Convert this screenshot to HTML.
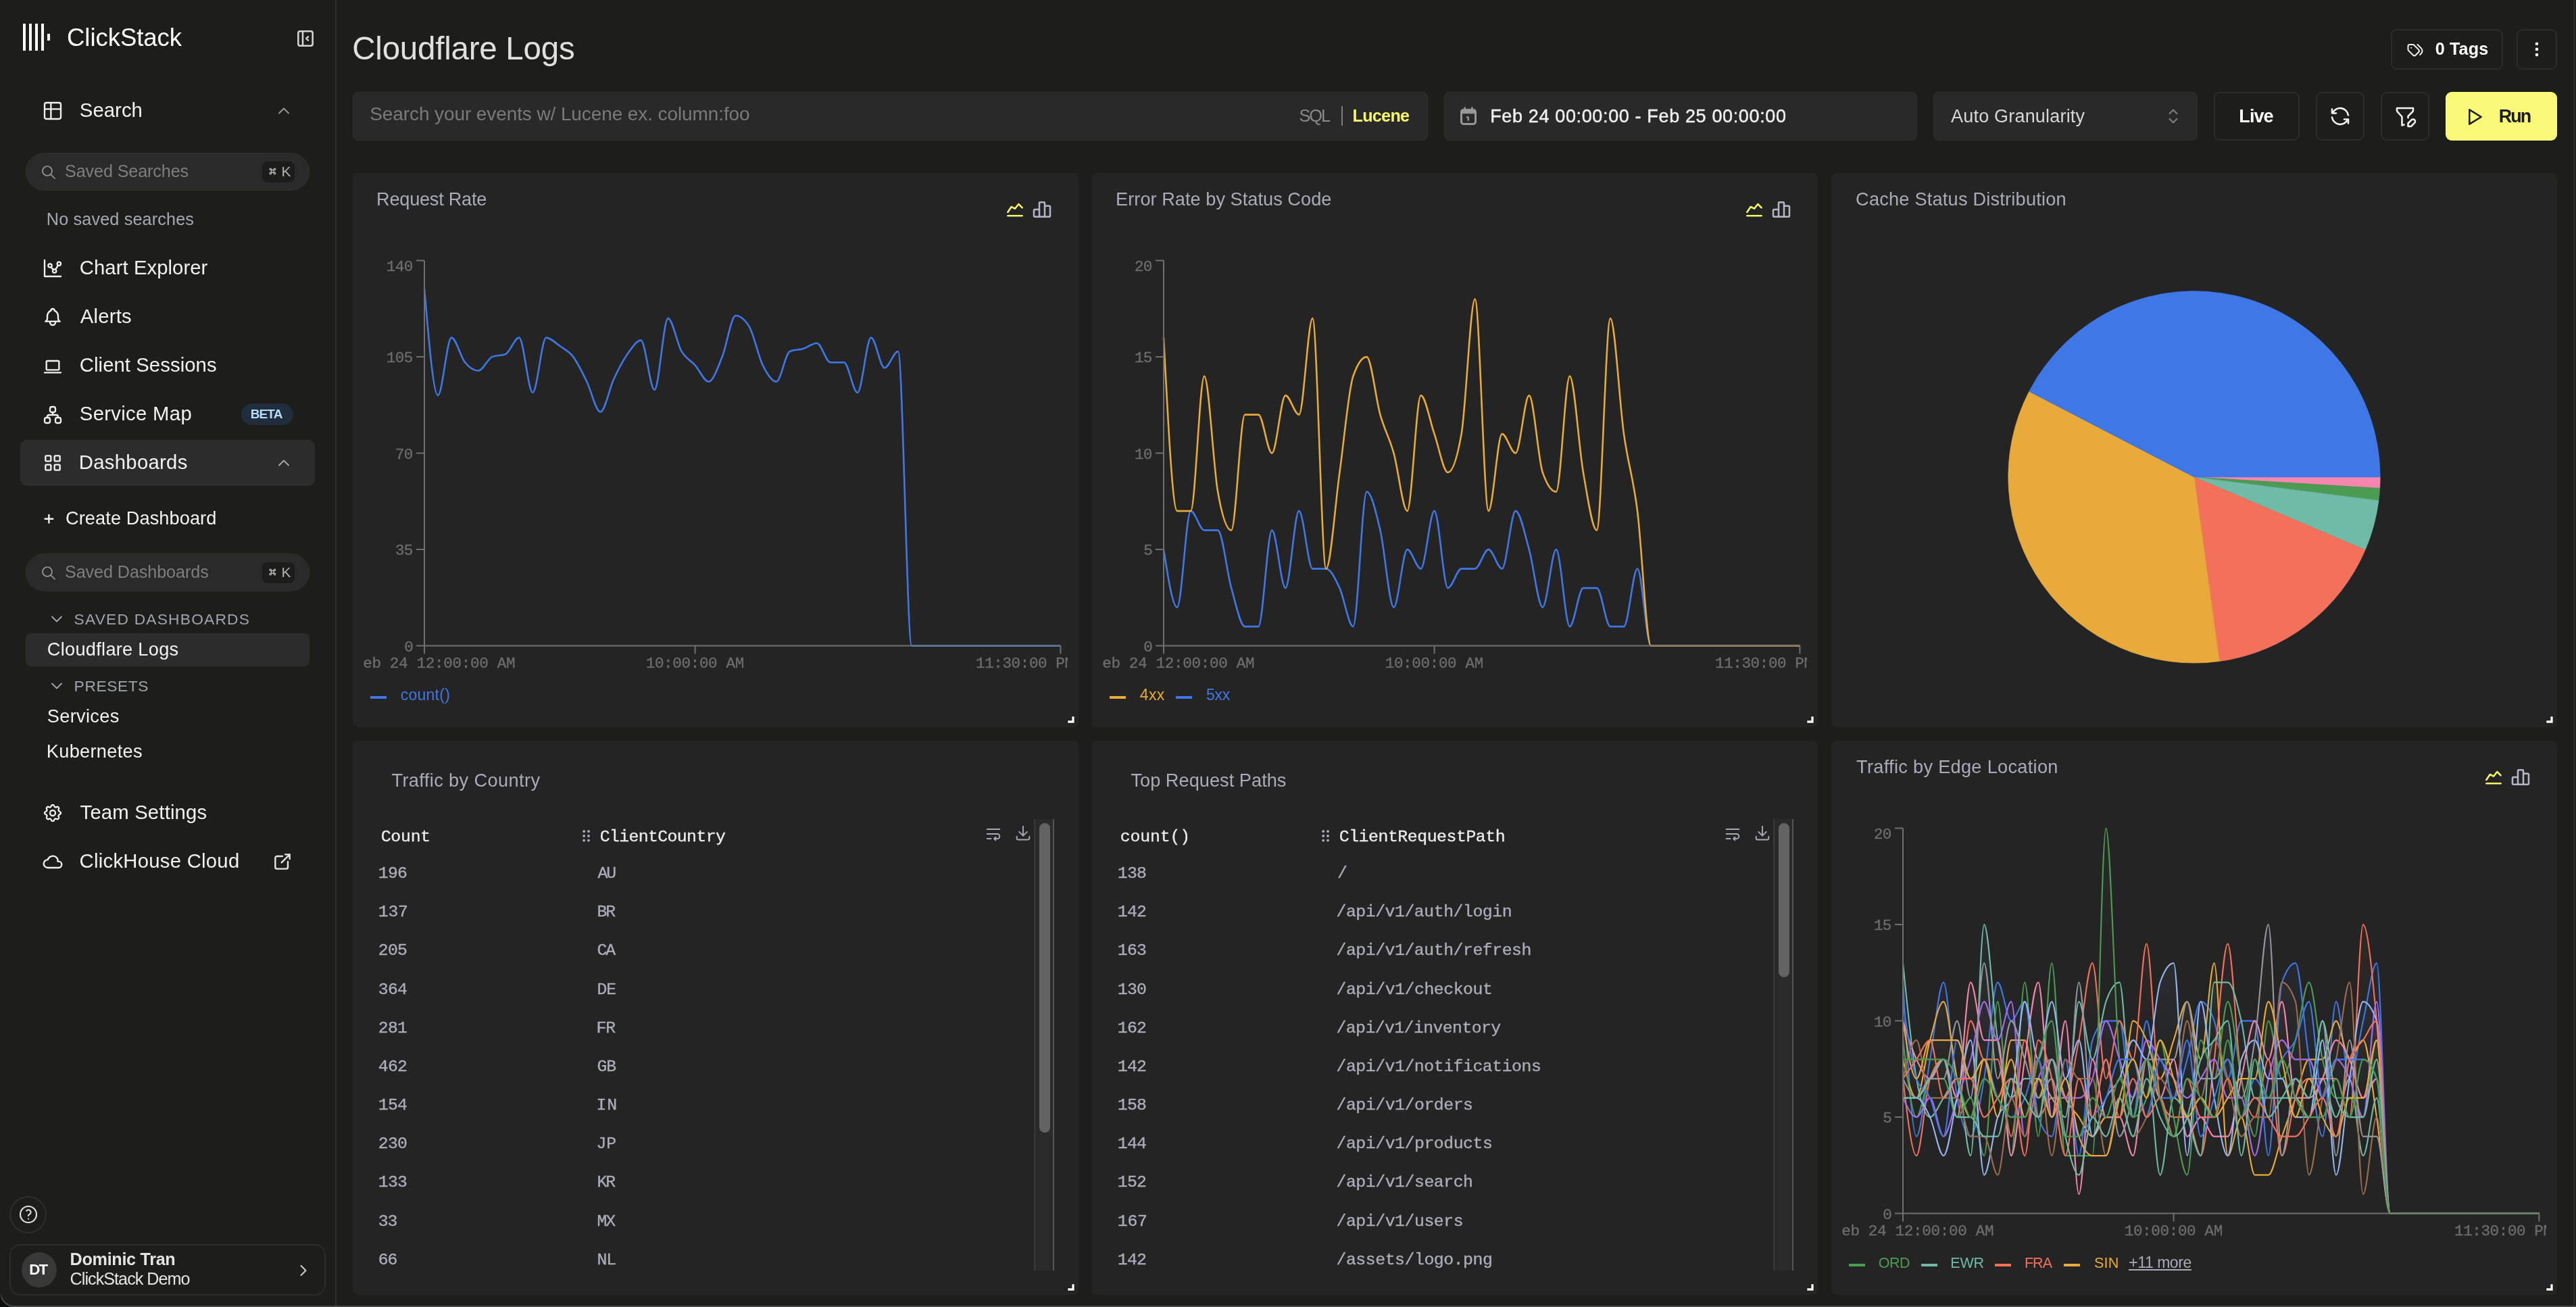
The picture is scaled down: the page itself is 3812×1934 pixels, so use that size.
<!DOCTYPE html>
<html lang="en"><head><meta charset="utf-8"><title>Cloudflare Logs - ClickStack</title>
<style>
html,body{margin:0;padding:0}
body{width:3812px;height:1934px;background:#1d1e1a;overflow:hidden;position:relative;font-family:"Liberation Sans", sans-serif;-webkit-font-smoothing:antialiased}
#app{position:absolute;left:0;top:0;width:3812px;height:1934px;overflow:hidden;will-change:transform}
#app div,#app svg.ic,#app span.t{position:absolute}
span.t{white-space:pre;line-height:1}
span.m{font-family:"Liberation Mono", monospace;-webkit-text-stroke:.35px currentColor}
span.b{font-weight:700}
div.clip{overflow:hidden}
</style></head>
<body><div id="app">
<div style="left:496px;top:0px;width:2px;height:1934px;background:#2d2d2d"></div>
<div style="left:34px;top:35px;width:4.1px;height:40px;background:#fff"></div>
<div style="left:43.05px;top:35px;width:4.1px;height:40px;background:#fff"></div>
<div style="left:52.1px;top:35px;width:4.1px;height:40px;background:#fff"></div>
<div style="left:61.15px;top:35px;width:4.1px;height:40px;background:#fff"></div>
<div style="left:70.1px;top:50px;width:4.1px;height:10px;background:#fff"></div>
<span class="t" style="left:99px;top:38.3px;font-size:36.5px;color:#fff;letter-spacing:-0.03px">ClickStack</span>
<svg class="ic" style="left:436px;top:41px" width="32" height="32" viewBox="0 0 24 24" fill="none" stroke="#d6d6d6" stroke-width="1.9" stroke-linecap="round" stroke-linejoin="round"><path d="M4 6a2 2 0 0 1 2 -2h12a2 2 0 0 1 2 2v12a2 2 0 0 1 -2 2h-12a2 2 0 0 1 -2 -2z M9 4v16 M15 10l-2 2l2 2"/></svg>
<svg class="ic" style="left:62.3px;top:148.4px" width="32" height="32" viewBox="0 0 24 24" fill="none" stroke="#f2f2f2" stroke-width="1.75" stroke-linecap="round" stroke-linejoin="round"><path d="M3 5a2 2 0 0 1 2 -2h14a2 2 0 0 1 2 2v14a2 2 0 0 1 -2 2h-14a2 2 0 0 1 -2 -2v-14z M3 10h18 M10 3v18"/></svg>
<span class="t" style="left:117.8px;top:147.7px;font-size:29.3px;color:#f2f2f2;letter-spacing:0.05px">Search</span>
<svg class="ic" style="left:406.4px;top:150px" width="28" height="28" viewBox="0 0 24 24" fill="none" stroke="#9c9c9c" stroke-width="1.6" stroke-linecap="round" stroke-linejoin="round"><path d="M6 15l6 -6l6 6"/></svg>
<div style="left:38px;top:226px;width:420px;height:56px;background:#2a2a2a;border-radius:28px;box-shadow:inset 0 0 0 1px #303030"></div>
<svg class="ic" style="left:60px;top:242.5px" width="24" height="24" viewBox="0 0 24 24" fill="none" stroke="#9a9a9a" stroke-width="1.7" stroke-linecap="round" stroke-linejoin="round"><path d="M3 10a7 7 0 1 0 14 0a7 7 0 1 0 -14 0 M21 21l-6 -6"/></svg>
<span class="t" style="left:96px;top:241px;font-size:25.2px;color:#7e7e7e;letter-spacing:-0.13px">Saved Searches</span>
<div style="left:388px;top:239px;width:48px;height:31px;background:#1c1c1a;border-radius:8px"></div>
<svg class="ic" style="left:396.4px;top:246.2px" width="14.8" height="14.8" viewBox="0 0 24 24" fill="none" stroke="#b4b4b4" stroke-width="2.2" stroke-linecap="round" stroke-linejoin="round"><path d="M7 9a2 2 0 1 1 2 -2v10a2 2 0 1 1 -2 -2h10a2 2 0 1 1 -2 2v-10a2 2 0 1 1 2 2h-10"/></svg>
<span class="t" style="left:416.6px;top:243.4px;font-size:21px;color:#b4b4b4">K</span>
<span class="t" style="left:68.8px;top:311.9px;font-size:25.2px;color:#a5a8b5;letter-spacing:0.16px">No saved searches</span>
<svg class="ic" style="left:62.3px;top:381.4px" width="32" height="32" viewBox="0 0 24 24" fill="none" stroke="#f2f2f2" stroke-width="1.75" stroke-linecap="round" stroke-linejoin="round"><path d="M3 3v18h18 M9 9m-2 0a2 2 0 1 0 4 0a2 2 0 1 0 -4 0 M19 7m-2 0a2 2 0 1 0 4 0a2 2 0 1 0 -4 0 M14 15m-2 0a2 2 0 1 0 4 0a2 2 0 1 0 -4 0 M10.16 10.62l2.34 2.88 M15.088 13.328l2.837 -4.586"/></svg>
<span class="t" style="left:117.8px;top:380.7px;font-size:29.3px;color:#f2f2f2;letter-spacing:0.05px">Chart Explorer</span>
<svg class="ic" style="left:62.3px;top:453.3px" width="32" height="32" viewBox="0 0 24 24" fill="none" stroke="#f2f2f2" stroke-width="1.75" stroke-linecap="round" stroke-linejoin="round"><path d="M10 5a2 2 0 1 1 4 0a7 7 0 0 1 4 6v3a4 4 0 0 0 2 3h-16a4 4 0 0 0 2 -3v-3a7 7 0 0 1 4 -6 M9 17v1a3 3 0 0 0 6 0v-1"/></svg>
<span class="t" style="left:118.8px;top:452.6px;font-size:29.3px;color:#f2f2f2;letter-spacing:0.21px">Alerts</span>
<svg class="ic" style="left:62.3px;top:525.5px" width="32" height="32" viewBox="0 0 24 24" fill="none" stroke="#f2f2f2" stroke-width="1.75" stroke-linecap="round" stroke-linejoin="round"><path d="M3 19l18 0 M5 7a1 1 0 0 1 1 -1h12a1 1 0 0 1 1 1v8a1 1 0 0 1 -1 1h-12a1 1 0 0 1 -1 -1z"/></svg>
<span class="t" style="left:117.8px;top:524.8px;font-size:29.3px;color:#f2f2f2;letter-spacing:0.06px">Client Sessions</span>
<svg class="ic" style="left:62.3px;top:597.9px" width="32" height="32" viewBox="0 0 24 24" fill="none" stroke="#f2f2f2" stroke-width="1.75" stroke-linecap="round" stroke-linejoin="round"><path d="M3 17a2 2 0 0 1 2 -2h2a2 2 0 0 1 2 2v2a2 2 0 0 1 -2 2h-2a2 2 0 0 1 -2 -2z M15 17a2 2 0 0 1 2 -2h2a2 2 0 0 1 2 2v2a2 2 0 0 1 -2 2h-2a2 2 0 0 1 -2 -2z M9 5a2 2 0 0 1 2 -2h2a2 2 0 0 1 2 2v2a2 2 0 0 1 -2 2h-2a2 2 0 0 1 -2 -2z M6 15v-1a2 2 0 0 1 2 -2h8a2 2 0 0 1 2 2v1 M12 9l0 3"/></svg>
<span class="t" style="left:117.8px;top:597.2px;font-size:29.3px;color:#f2f2f2;letter-spacing:0.31px">Service Map</span>
<div style="left:356.8px;top:597.3px;width:77.4px;height:31.5px;background:#1f2d3c;border-radius:16px"></div>
<span class="t b" style="left:370.7px;top:602.7px;font-size:19px;color:#badcfb;letter-spacing:-0.86px">BETA</span>
<div style="left:30px;top:651px;width:436px;height:68px;background:#2c2c2c;border-radius:9px"></div>
<svg class="ic" style="left:62.3px;top:669.4px" width="32" height="32" viewBox="0 0 24 24" fill="none" stroke="#f2f2f2" stroke-width="1.75" stroke-linecap="round" stroke-linejoin="round"><path d="M4 5a1 1 0 0 1 1 -1h4a1 1 0 0 1 1 1v4a1 1 0 0 1 -1 1h-4a1 1 0 0 1 -1 -1z M14 5a1 1 0 0 1 1 -1h4a1 1 0 0 1 1 1v4a1 1 0 0 1 -1 1h-4a1 1 0 0 1 -1 -1z M4 15a1 1 0 0 1 1 -1h4a1 1 0 0 1 1 1v4a1 1 0 0 1 -1 1h-4a1 1 0 0 1 -1 -1z M14 15a1 1 0 0 1 1 -1h4a1 1 0 0 1 1 1v4a1 1 0 0 1 -1 1h-4a1 1 0 0 1 -1 -1z"/></svg>
<span class="t" style="left:116.8px;top:668.7px;font-size:29.3px;color:#f2f2f2;letter-spacing:0.28px">Dashboards</span>
<svg class="ic" style="left:406.4px;top:671.3px" width="28" height="28" viewBox="0 0 24 24" fill="none" stroke="#a8a8a8" stroke-width="1.6" stroke-linecap="round" stroke-linejoin="round"><path d="M6 15l6 -6l6 6"/></svg>
<svg class="ic" style="left:60px;top:755px" width="26" height="26" viewBox="0 0 26 26" stroke="#f2f2f2" stroke-width="2.4" fill="none"><path d="M5.6 12.8h13.6M12.4 6v13.6"/></svg>
<span class="t" style="left:97px;top:753px;font-size:27.2px;color:#f2f2f2;letter-spacing:0.08px">Create Dashboard</span>
<div style="left:38px;top:819px;width:420px;height:56px;background:#2a2a2a;border-radius:28px;box-shadow:inset 0 0 0 1px #303030"></div>
<svg class="ic" style="left:60px;top:835.5px" width="24" height="24" viewBox="0 0 24 24" fill="none" stroke="#9a9a9a" stroke-width="1.7" stroke-linecap="round" stroke-linejoin="round"><path d="M3 10a7 7 0 1 0 14 0a7 7 0 1 0 -14 0 M21 21l-6 -6"/></svg>
<span class="t" style="left:96px;top:834px;font-size:25.2px;color:#7e7e7e;letter-spacing:-0.1px">Saved Dashboards</span>
<div style="left:388px;top:832px;width:48px;height:31px;background:#1c1c1a;border-radius:8px"></div>
<svg class="ic" style="left:396.4px;top:839.2px" width="14.8" height="14.8" viewBox="0 0 24 24" fill="none" stroke="#b4b4b4" stroke-width="2.2" stroke-linecap="round" stroke-linejoin="round"><path d="M7 9a2 2 0 1 1 2 -2v10a2 2 0 1 1 -2 -2h10a2 2 0 1 1 -2 2v-10a2 2 0 1 1 2 2h-10"/></svg>
<span class="t" style="left:416.6px;top:836.4px;font-size:21px;color:#b4b4b4">K</span>
<svg class="ic" style="left:70px;top:902.4px" width="28" height="28" viewBox="0 0 24 24" fill="none" stroke="#a2a5b2" stroke-width="1.6" stroke-linecap="round" stroke-linejoin="round"><path d="M6 9l6 6l6 -6"/></svg>
<span class="t" style="left:109.6px;top:904.7px;font-size:22.8px;color:#9fa2b0;letter-spacing:1.19px">SAVED DASHBOARDS</span>
<div style="left:38px;top:937px;width:420px;height:49px;background:#2c2c2d;border-radius:8px"></div>
<span class="t" style="left:69.8px;top:947.2px;font-size:27.2px;color:#f2f2f2;letter-spacing:0.28px">Cloudflare Logs</span>
<svg class="ic" style="left:70px;top:1001.4px" width="28" height="28" viewBox="0 0 24 24" fill="none" stroke="#a2a5b2" stroke-width="1.6" stroke-linecap="round" stroke-linejoin="round"><path d="M6 9l6 6l6 -6"/></svg>
<span class="t" style="left:109.6px;top:1003.7px;font-size:22.8px;color:#9fa2b0;letter-spacing:0.58px">PRESETS</span>
<span class="t" style="left:69.8px;top:1046.2px;font-size:27.2px;color:#f2f2f2;letter-spacing:0.32px">Services</span>
<span class="t" style="left:68.8px;top:1098.2px;font-size:27.2px;color:#f2f2f2;letter-spacing:0.3px">Kubernetes</span>
<svg class="ic" style="left:62.3px;top:1187.2px" width="32" height="32" viewBox="0 0 24 24" fill="none" stroke="#f2f2f2" stroke-width="1.75" stroke-linecap="round" stroke-linejoin="round"><path d="M10.325 4.317c.426 -1.756 2.924 -1.756 3.35 0a1.724 1.724 0 0 0 2.573 1.066c1.543 -.94 3.31 .826 2.37 2.37a1.724 1.724 0 0 0 1.065 2.572c1.756 .426 1.756 2.924 0 3.35a1.724 1.724 0 0 0 -1.066 2.573c.94 1.543 -.826 3.31 -2.37 2.37a1.724 1.724 0 0 0 -2.572 1.065c-.426 1.756 -2.924 1.756 -3.35 0a1.724 1.724 0 0 0 -2.573 -1.066c-1.543 .94 -3.31 -.826 -2.37 -2.37a1.724 1.724 0 0 0 -1.065 -2.572c-1.756 -.426 -1.756 -2.924 0 -3.35a1.724 1.724 0 0 0 1.066 -2.573c-.94 -1.543 .826 -3.31 2.37 -2.37c1 .608 2.296 .07 2.572 -1.065z M9 12a3 3 0 1 0 6 0a3 3 0 0 0 -6 0"/></svg>
<span class="t" style="left:118.6px;top:1186.5px;font-size:29.3px;color:#f2f2f2;letter-spacing:0.16px">Team Settings</span>
<svg class="ic" style="left:62.3px;top:1260.1px" width="32" height="32" viewBox="0 0 24 24" fill="none" stroke="#f2f2f2" stroke-width="1.75" stroke-linecap="round" stroke-linejoin="round"><path d="M6.657 18c-2.572 0 -4.657 -2.007 -4.657 -4.483c0 -2.475 2.085 -4.482 4.657 -4.482c.393 -1.762 1.794 -3.2 3.675 -3.773c1.88 -.572 3.956 -.193 5.444 1c1.488 1.19 2.162 3.007 1.77 4.769h.99c1.913 0 3.464 1.56 3.464 3.486c0 1.927 -1.551 3.487 -3.465 3.487h-11.878"/></svg>
<span class="t" style="left:117.6px;top:1259.4px;font-size:29.3px;color:#f2f2f2;letter-spacing:0.25px">ClickHouse Cloud</span>
<svg class="ic" style="left:401.8px;top:1258.5px" width="32" height="32" viewBox="0 0 24 24" fill="none" stroke="#e6e6e6" stroke-width="1.8" stroke-linecap="round" stroke-linejoin="round"><path d="M12 6h-6a2 2 0 0 0 -2 2v10a2 2 0 0 0 2 2h10a2 2 0 0 0 2 -2v-6 M11 13l9 -9 M15 4h5v5"/></svg>
<div style="left:14.3px;top:1769.7px;width:55px;height:55px;border-radius:50%;box-shadow:inset 0 0 0 2px #2e2e2c"></div>
<svg class="ic" style="left:25.8px;top:1781.1px" width="32" height="32" viewBox="0 0 24 24" fill="none" stroke="#e0e0e0" stroke-width="1.6" stroke-linecap="round" stroke-linejoin="round"><path d="M3 12a9 9 0 1 0 18 0a9 9 0 1 0 -18 0 M12 17l0 .01 M12 13.5a1.5 1.5 0 0 1 1 -1.5a2.6 2.6 0 1 0 -3 -4"/></svg>
<div style="left:14.3px;top:1841.4px;width:467.3px;height:75.7px;border-radius:16px;box-shadow:inset 0 0 0 2px #2c2c2b"></div>
<div style="left:31.8px;top:1852.8px;width:52px;height:52px;background:#383838;border-radius:50%"></div>
<span class="t b" style="left:43.2px;top:1868.2px;font-size:22.3px;color:#fff;letter-spacing:-1.9px">DT</span>
<span class="t b" style="left:103.6px;top:1851px;font-size:25.2px;color:#e4e4e4;letter-spacing:-0.31px">Dominic Tran</span>
<span class="t" style="left:103.6px;top:1879.9px;font-size:25.2px;color:#e4e4e4;letter-spacing:-0.98px">ClickStack Demo</span>
<svg class="ic" style="left:435.4px;top:1865.9px" width="28" height="28" viewBox="0 0 24 24" fill="none" stroke="#d0d0d0" stroke-width="1.7" stroke-linecap="round" stroke-linejoin="round"><path d="M9 6l6 6l-6 6"/></svg>
<span class="t" style="left:521.3px;top:48.3px;font-size:47.5px;color:#e0e0e0;letter-spacing:-0.24px">Cloudflare Logs</span>
<div style="left:3538px;top:43px;width:166px;height:60px;border-radius:9px;box-shadow:inset 0 0 0 2px #2c2c2b"></div>
<svg class="ic" style="left:3559.8px;top:58.8px" width="28" height="28" viewBox="0 0 24 24" fill="none" stroke="#f0f0f0" stroke-width="1.7" stroke-linecap="round" stroke-linejoin="round"><path d="M3 8v4.172a2 2 0 0 0 .586 1.414l5.71 5.71a2.41 2.41 0 0 0 3.408 0l3.592 -3.592a2.41 2.41 0 0 0 0 -3.408l-5.71 -5.71a2 2 0 0 0 -1.414 -.586h-4.172a2 2 0 0 0 -2 2z M18 19l1.592 -1.592a4.82 4.82 0 0 0 0 -6.816l-4.592 -4.592 M7 10h-.01"/></svg>
<span class="t b" style="left:3603.7px;top:60.1px;font-size:25.2px;color:#fff;letter-spacing:0.12px">0 Tags</span>
<div style="left:3724px;top:43px;width:60px;height:60px;border-radius:9px;box-shadow:inset 0 0 0 2px #2c2c2b"></div>
<svg class="ic" style="left:3744px;top:58px" width="20" height="30" viewBox="0 0 20 30" fill="#fff"><circle cx="10" cy="6.8" r="2.3"/><circle cx="10" cy="14.9" r="2.3"/><circle cx="10" cy="23.1" r="2.3"/></svg>
<div style="left:522px;top:136px;width:1590.5px;height:72px;background:#292929;border-radius:8px;box-shadow:inset 0 0 0 1px #2e2e2e"></div>
<span class="t" style="left:547.3px;top:155.4px;font-size:28px;color:#7a7a7a;letter-spacing:-0.1px">Search your events w/ Lucene ex. column:foo</span>
<span class="t" style="left:1922.4px;top:159.1px;font-size:25.4px;color:#8a8a8a;letter-spacing:-2.04px">SQL</span>
<div style="left:1985px;top:156.6px;width:2px;height:29.3px;background:#7d7d7d"></div>
<span class="t b" style="left:2001.6px;top:159.1px;font-size:25.2px;color:#f6f66b;letter-spacing:-0.75px">Lucene</span>
<div style="left:2137px;top:136px;width:700px;height:72px;background:#292929;border-radius:8px;box-shadow:inset 0 0 0 1px #2e2e2e"></div>
<svg class="ic" style="left:2159px;top:157px" width="28" height="30" viewBox="0 0 28 30" fill="none" stroke="#989898" stroke-width="3" stroke-linejoin="round" stroke-linecap="round"><rect x="3.5" y="5.5" width="21" height="21" rx="3.2"/><path d="M3.5 8.7a3.2 3.2 0 0 1 3.2-3.2h14.6a3.2 3.2 0 0 1 3.2 3.2v1.6h-21z" fill="#989898" stroke-width="2"/><path d="M8.7 2.6v3M19.3 2.6v3" stroke-width="2.6"/><path d="M11.7 16.3h2v4.6" stroke-width="2.3"/></svg>
<span class="t" style="left:2205.2px;top:159px;font-size:27px;color:#f0f0f0;letter-spacing:0.64px;-webkit-text-stroke:0.45px currentColor">Feb 24 00:00:00 - Feb 25 00:00:00</span>
<div style="left:2861px;top:136px;width:391px;height:72px;background:#292929;border-radius:8px;box-shadow:inset 0 0 0 1px #2e2e2e"></div>
<span class="t" style="left:2887.1px;top:159px;font-size:27px;color:#d6d6d6;letter-spacing:0.19px">Auto Granularity</span>
<svg class="ic" style="left:3200px;top:156.4px" width="32" height="32" viewBox="0 0 24 24" fill="none" stroke="#7a7a7a" stroke-width="1.75" stroke-linecap="round" stroke-linejoin="round"><path d="M8 9l4 -4l4 4 M16 15l-4 4l-4 -4"/></svg>
<div style="left:3276px;top:136px;width:127px;height:72px;border-radius:9px;box-shadow:inset 0 0 0 2px #2c2c2b"></div>
<span class="t b" style="left:3313.3px;top:159px;font-size:27px;color:#fff;letter-spacing:-0.9px">Live</span>
<div style="left:3427px;top:136px;width:72px;height:72px;border-radius:9px;box-shadow:inset 0 0 0 2px #2c2c2b"></div>
<svg class="ic" style="left:3445px;top:154px" width="36" height="36" viewBox="0 0 24 24" fill="none" stroke="#f4f4f4" stroke-width="1.7" stroke-linecap="round" stroke-linejoin="round"><path d="M20 11a8.1 8.1 0 0 0 -15.5 -2m-.5 -4v4h4 M4 13a8.1 8.1 0 0 0 15.5 2m.5 4v-4h-4"/></svg>
<div style="left:3523px;top:136px;width:72px;height:72px;border-radius:9px;box-shadow:inset 0 0 0 2px #2c2c2b"></div>
<svg class="ic" style="left:3541px;top:154px" width="36" height="36" viewBox="0 0 24 24" fill="none" stroke="#f4f4f4" stroke-width="1.7" stroke-linecap="round" stroke-linejoin="round"><path d="M10.97 20.344l-1.97 .656v-8.5l-4.48 -4.928a2 2 0 0 1 -.52 -1.345v-2.227h16v2.172a2 2 0 0 1 -.586 1.414l-4.414 4.414v1.5 M18.42 15.61a2.1 2.1 0 0 1 2.97 2.97l-3.39 3.42h-3v-3l3.42 -3.39z"/></svg>
<div style="left:3619px;top:136px;width:165px;height:72px;background:#fafa78;border-radius:9px"></div>
<svg class="ic" style="left:3645px;top:156.7px" width="32" height="32" viewBox="0 0 24 24" fill="none" stroke="#1c1c1c" stroke-width="1.9" stroke-linecap="round" stroke-linejoin="round"><path d="M7 4v16l13 -8z"/></svg>
<span class="t b" style="left:3697.8px;top:159.2px;font-size:27px;color:#1c1c1c;letter-spacing:-2.05px">Run</span>
<div style="left:522px;top:256px;width:1074px;height:820px;background:#242424;border-radius:8px"></div>
<span class="t" style="left:557.1px;top:281.1px;font-size:27.2px;color:#a9acb8;letter-spacing:-0.27px">Request Rate</span>
<svg class="ic" style="left:1486px;top:294px" width="32" height="32" viewBox="0 0 24 24" fill="none" stroke="#f6f66b" stroke-width="1.9" stroke-linecap="round" stroke-linejoin="round"><path d="M4 19l16 0 M4 15l4 -6l4 2l4 -5l4 4"/></svg>
<svg class="ic" style="left:1526px;top:294px" width="32" height="32" viewBox="0 0 24 24" fill="none" stroke="#b4b8c6" stroke-width="1.9" stroke-linecap="round" stroke-linejoin="round"><path d="M3 13a1 1 0 0 1 1 -1h4a1 1 0 0 1 1 1v6a1 1 0 0 1 -1 1h-4a1 1 0 0 1 -1 -1z M15 9a1 1 0 0 1 1 -1h4a1 1 0 0 1 1 1v10a1 1 0 0 1 -1 1h-4a1 1 0 0 1 -1 -1z M9 5a1 1 0 0 1 1 -1h4a1 1 0 0 1 1 1v14a1 1 0 0 1 -1 1h-4a1 1 0 0 1 -1 -1z M4 20h14"/></svg>
<svg class="ic" style="left:522px;top:256px" width="1074" height="820" viewBox="0 0 1074 820" fill="none"><path d="M106,170.31C112.68,249.71,119.35,329.1,126.03,329.1C132.71,329.1,139.38,243.6,146.06,243.6C152.74,243.6,159.41,272.1,166.09,280.24C172.77,288.39,179.44,292.46,186.12,292.46C192.8,292.46,199.47,274.81,206.15,272.1C212.83,269.39,219.5,270.74,226.18,268.03C232.86,265.31,239.53,243.6,246.21,243.6C252.89,243.6,259.56,325.03,266.24,325.03C272.91,325.03,279.59,243.6,286.27,243.6C292.94,243.6,299.62,251.06,306.3,255.81C312.97,260.56,319.65,263.28,326.33,272.1C333,280.92,339.68,295.17,346.36,308.74C353.03,322.31,359.71,353.53,366.39,353.53C373.06,353.53,379.74,318.92,386.42,304.67C393.09,290.42,399.77,277.53,406.45,268.03C413.12,258.53,419.8,247.67,426.48,247.67C433.15,247.67,439.83,320.96,446.51,320.96C453.18,320.96,459.86,215.1,466.54,215.1C473.21,215.1,479.89,252.42,486.57,263.96C493.24,275.49,499.92,276.85,506.6,284.31C513.27,291.78,519.95,308.74,526.63,308.74C533.3,308.74,539.98,288.39,546.66,272.1C553.33,255.81,560.01,211.03,566.69,211.03C573.36,211.03,580.04,216.46,586.71,227.31C593.39,238.17,600.07,270.74,606.74,284.31C613.42,297.89,620.1,308.74,626.77,308.74C633.45,308.74,640.13,266.67,646.8,263.96C653.48,261.24,660.16,261.92,666.83,259.89C673.51,257.85,680.19,251.74,686.86,251.74C693.54,251.74,700.22,280.24,706.89,280.24C713.57,280.24,720.25,280.24,726.92,280.24C733.6,280.24,740.28,325.03,746.95,325.03C753.63,325.03,760.31,243.6,766.98,243.6C773.66,243.6,780.34,288.39,787.01,288.39C793.69,288.39,800.37,263.96,807.04,263.96C813.72,263.96,820.4,699.6,827.07,699.6C833.75,699.6,840.43,699.6,847.1,699.6C853.78,699.6,860.46,699.6,867.13,699.6C873.81,699.6,880.49,699.6,887.16,699.6C893.84,699.6,900.51,699.6,907.19,699.6C913.87,699.6,920.54,699.6,927.22,699.6C933.9,699.6,940.57,699.6,947.25,699.6C953.93,699.6,960.6,699.6,967.28,699.6C973.96,699.6,980.63,699.6,987.31,699.6C993.99,699.6,1000.66,699.6,1007.34,699.6C1014.02,699.6,1020.69,699.6,1027.37,699.6C1034.05,699.6,1040.72,699.6,1047.4,699.6" stroke="#3f78e6" stroke-width="2.6" stroke-linejoin="round"/><path d="M106,129.6V699.6M106,699.6H1047.4M94,699.6H106M94,557.1H106M94,414.6H106M94,272.1H106M94,129.6H106M106,699.6V711.6M506.6,699.6V711.6M1047.4,699.6V711.6" stroke="#6f6f6f" stroke-width="2"/></svg>
<span class="t m" style="left:598.2px;top:946.5px;font-size:22.6px;color:#6d6d6d">0</span>
<span class="t m" style="left:585px;top:804px;font-size:22.6px;color:#6d6d6d;letter-spacing:-0.76px">35</span>
<span class="t m" style="left:585px;top:661.5px;font-size:22.6px;color:#6d6d6d;letter-spacing:-0.76px">70</span>
<span class="t m" style="left:571.8px;top:519px;font-size:22.6px;color:#6d6d6d;letter-spacing:-0.56px">105</span>
<span class="t m" style="left:571.8px;top:383.7px;font-size:22.6px;color:#6d6d6d;letter-spacing:-0.56px">140</span>
<div class="clip" style="left:538px;top:971px;width:1041.6px;height:29.38px"><span class="t m" style="left:-14.1px;top:0;font-size:22.6px;color:#6d6d6d;letter-spacing:-0.32px">Feb 24 12:00:00 AM</span></div>
<div class="clip" style="left:538px;top:971px;width:1041.6px;height:29.38px"><span class="t m" style="left:417.7px;top:0;font-size:22.6px;color:#6d6d6d;letter-spacing:-0.36px">10:00:00 AM</span></div>
<div class="clip" style="left:538px;top:971px;width:1041.6px;height:29.38px"><span class="t m" style="left:906px;top:0;font-size:22.6px;color:#6d6d6d;letter-spacing:-0.41px">11:30:00 PM</span></div>
<div style="left:548px;top:1030.4px;width:24px;height:3.2px;background:#3f78e6"></div>
<span class="t" style="left:592.7px;top:1016.9px;font-size:23px;color:#3f78e6;letter-spacing:0.26px">count()</span>
<div style="left:1616px;top:256px;width:1074px;height:820px;background:#242424;border-radius:8px"></div>
<span class="t" style="left:1651.1px;top:281.1px;font-size:27.2px;color:#a9acb8;letter-spacing:0.02px">Error Rate by Status Code</span>
<svg class="ic" style="left:2580px;top:294px" width="32" height="32" viewBox="0 0 24 24" fill="none" stroke="#f6f66b" stroke-width="1.9" stroke-linecap="round" stroke-linejoin="round"><path d="M4 19l16 0 M4 15l4 -6l4 2l4 -5l4 4"/></svg>
<svg class="ic" style="left:2620px;top:294px" width="32" height="32" viewBox="0 0 24 24" fill="none" stroke="#b4b8c6" stroke-width="1.9" stroke-linecap="round" stroke-linejoin="round"><path d="M3 13a1 1 0 0 1 1 -1h4a1 1 0 0 1 1 1v6a1 1 0 0 1 -1 1h-4a1 1 0 0 1 -1 -1z M15 9a1 1 0 0 1 1 -1h4a1 1 0 0 1 1 1v10a1 1 0 0 1 -1 1h-4a1 1 0 0 1 -1 -1z M9 5a1 1 0 0 1 1 -1h4a1 1 0 0 1 1 1v14a1 1 0 0 1 -1 1h-4a1 1 0 0 1 -1 -1z M4 20h14"/></svg>
<svg class="ic" style="left:1616px;top:256px" width="1074" height="820" viewBox="0 0 1074 820" fill="none"><path d="M106,557.1C112.68,599.85,119.35,642.6,126.03,642.6C132.71,642.6,139.38,500.1,146.06,500.1C152.74,500.1,159.41,528.6,166.09,528.6C172.77,528.6,179.44,528.6,186.12,528.6C192.8,528.6,199.47,590.35,206.15,614.1C212.83,637.85,219.5,671.1,226.18,671.1C232.86,671.1,239.53,671.1,246.21,671.1C252.89,671.1,259.56,528.6,266.24,528.6C272.91,528.6,279.59,614.1,286.27,614.1C292.94,614.1,299.62,500.1,306.3,500.1C312.97,500.1,319.65,585.6,326.33,585.6C333,585.6,339.68,585.6,346.36,585.6C353.03,585.6,359.71,599.85,366.39,614.1C373.06,628.35,379.74,671.1,386.42,671.1C393.09,671.1,399.77,471.6,406.45,471.6C413.12,471.6,419.8,500.1,426.48,528.6C433.15,557.1,439.83,642.6,446.51,642.6C453.18,642.6,459.86,557.1,466.54,557.1C473.21,557.1,479.89,585.6,486.57,585.6C493.24,585.6,499.92,500.1,506.6,500.1C513.27,500.1,519.95,614.1,526.63,614.1C533.3,614.1,539.98,585.6,546.66,585.6C553.33,585.6,560.01,585.6,566.69,585.6C573.36,585.6,580.04,557.1,586.71,557.1C593.39,557.1,600.07,585.6,606.74,585.6C613.42,585.6,620.1,500.1,626.77,500.1C633.45,500.1,640.13,533.35,646.8,557.1C653.48,580.85,660.16,642.6,666.83,642.6C673.51,642.6,680.19,557.1,686.86,557.1C693.54,557.1,700.22,671.1,706.89,671.1C713.57,671.1,720.25,614.1,726.92,614.1C733.6,614.1,740.28,614.1,746.95,614.1C753.63,614.1,760.31,671.1,766.98,671.1C773.66,671.1,780.34,671.1,787.01,671.1C793.69,671.1,800.37,585.6,807.04,585.6C813.72,585.6,820.4,699.6,827.07,699.6C833.75,699.6,840.43,699.6,847.1,699.6C853.78,699.6,860.46,699.6,867.13,699.6C873.81,699.6,880.49,699.6,887.16,699.6C893.84,699.6,900.51,699.6,907.19,699.6C913.87,699.6,920.54,699.6,927.22,699.6C933.9,699.6,940.57,699.6,947.25,699.6C953.93,699.6,960.6,699.6,967.28,699.6C973.96,699.6,980.63,699.6,987.31,699.6C993.99,699.6,1000.66,699.6,1007.34,699.6C1014.02,699.6,1020.69,699.6,1027.37,699.6C1034.05,699.6,1040.72,699.6,1047.4,699.6" stroke="#3f78e6" stroke-width="2.6" stroke-linejoin="round"/><path d="M106,243.6C112.68,371.85,119.35,500.1,126.03,500.1C132.71,500.1,139.38,500.1,146.06,500.1C152.74,500.1,159.41,300.6,166.09,300.6C172.77,300.6,179.44,433.6,186.12,471.6C192.8,509.6,199.47,528.6,206.15,528.6C212.83,528.6,219.5,357.6,226.18,357.6C232.86,357.6,239.53,357.6,246.21,357.6C252.89,357.6,259.56,414.6,266.24,414.6C272.91,414.6,279.59,329.1,286.27,329.1C292.94,329.1,299.62,357.6,306.3,357.6C312.97,357.6,319.65,215.1,326.33,215.1C333,215.1,339.68,585.6,346.36,585.6C353.03,585.6,359.71,490.6,366.39,443.1C373.06,395.6,379.74,319.6,386.42,300.6C393.09,281.6,399.77,272.1,406.45,272.1C413.12,272.1,419.8,333.85,426.48,357.6C433.15,381.35,439.83,390.85,446.51,414.6C453.18,438.35,459.86,500.1,466.54,500.1C473.21,500.1,479.89,329.1,486.57,329.1C493.24,329.1,499.92,367.1,506.6,386.1C513.27,405.1,519.95,443.1,526.63,443.1C533.3,443.1,539.98,424.1,546.66,386.1C553.33,348.1,560.01,186.6,566.69,186.6C573.36,186.6,580.04,500.1,586.71,500.1C593.39,500.1,600.07,386.1,606.74,386.1C613.42,386.1,620.1,414.6,626.77,414.6C633.45,414.6,640.13,329.1,646.8,329.1C653.48,329.1,660.16,424.1,666.83,443.1C673.51,462.1,680.19,471.6,686.86,471.6C693.54,471.6,700.22,300.6,706.89,300.6C713.57,300.6,720.25,405.1,726.92,443.1C733.6,481.1,740.28,528.6,746.95,528.6C753.63,528.6,760.31,215.1,766.98,215.1C773.66,215.1,780.34,338.6,787.01,386.1C793.69,433.6,800.37,447.85,807.04,500.1C813.72,552.35,820.4,699.6,827.07,699.6C833.75,699.6,840.43,699.6,847.1,699.6C853.78,699.6,860.46,699.6,867.13,699.6C873.81,699.6,880.49,699.6,887.16,699.6C893.84,699.6,900.51,699.6,907.19,699.6C913.87,699.6,920.54,699.6,927.22,699.6C933.9,699.6,940.57,699.6,947.25,699.6C953.93,699.6,960.6,699.6,967.28,699.6C973.96,699.6,980.63,699.6,987.31,699.6C993.99,699.6,1000.66,699.6,1007.34,699.6C1014.02,699.6,1020.69,699.6,1027.37,699.6C1034.05,699.6,1040.72,699.6,1047.4,699.6" stroke="#e8aa3a" stroke-width="2.6" stroke-linejoin="round"/><path d="M106,129.6V699.6M106,699.6H1047.4M94,699.6H106M94,557.1H106M94,414.6H106M94,272.1H106M94,129.6H106M106,699.6V711.6M506.6,699.6V711.6M1047.4,699.6V711.6" stroke="#6f6f6f" stroke-width="2"/></svg>
<span class="t m" style="left:1692.2px;top:946.5px;font-size:22.6px;color:#6d6d6d">0</span>
<span class="t m" style="left:1692.2px;top:804px;font-size:22.6px;color:#6d6d6d">5</span>
<span class="t m" style="left:1679px;top:661.5px;font-size:22.6px;color:#6d6d6d;letter-spacing:-0.76px">10</span>
<span class="t m" style="left:1679px;top:519px;font-size:22.6px;color:#6d6d6d;letter-spacing:-0.76px">15</span>
<span class="t m" style="left:1679px;top:383.7px;font-size:22.6px;color:#6d6d6d;letter-spacing:-0.76px">20</span>
<div class="clip" style="left:1632px;top:971px;width:1041.6px;height:29.38px"><span class="t m" style="left:-14.1px;top:0;font-size:22.6px;color:#6d6d6d;letter-spacing:-0.32px">Feb 24 12:00:00 AM</span></div>
<div class="clip" style="left:1632px;top:971px;width:1041.6px;height:29.38px"><span class="t m" style="left:417.7px;top:0;font-size:22.6px;color:#6d6d6d;letter-spacing:-0.36px">10:00:00 AM</span></div>
<div class="clip" style="left:1632px;top:971px;width:1041.6px;height:29.38px"><span class="t m" style="left:906px;top:0;font-size:22.6px;color:#6d6d6d;letter-spacing:-0.41px">11:30:00 PM</span></div>
<div style="left:1642px;top:1030.4px;width:24px;height:3.2px;background:#e8aa3a"></div>
<span class="t" style="left:1686.8px;top:1016.9px;font-size:23px;color:#e8aa3a;letter-spacing:0.35px">4xx</span>
<div style="left:1740px;top:1030.4px;width:24px;height:3.2px;background:#3f78e6"></div>
<span class="t" style="left:1785px;top:1016.9px;font-size:23px;color:#3f78e6;letter-spacing:-0.3px">5xx</span>
<div style="left:2710px;top:256px;width:1074px;height:820px;background:#242424;border-radius:8px"></div>
<span class="t" style="left:2746.1px;top:281.1px;font-size:27.2px;color:#a9acb8;letter-spacing:0.2px">Cache Status Distribution</span>
<svg class="ic" style="left:2710px;top:256px" width="1074" height="820" viewBox="0 0 1074 820"><path d="M537,449.9L812.2,449.9A275.2,275.2,0,0,1,811.7,466.41Z" fill="#f587af" stroke="#f587af" stroke-width=".6"/><path d="M537,449.9L811.7,466.41A275.2,275.2,0,0,1,810,484.63Z" fill="#4b9b52" stroke="#4b9b52" stroke-width=".6"/><path d="M537,449.9L810,484.63A275.2,275.2,0,0,1,790.13,557.87Z" fill="#70baa8" stroke="#70baa8" stroke-width=".6"/><path d="M537,449.9L790.13,557.87A275.2,275.2,0,0,1,574.35,722.55Z" fill="#f3705a" stroke="#f3705a" stroke-width=".6"/><path d="M537,449.9L574.35,722.55A275.2,275.2,0,0,1,292.67,323.25Z" fill="#e8aa3a" stroke="#e8aa3a" stroke-width=".6"/><path d="M537,449.9L292.67,323.25A275.2,275.2,0,0,1,812.2,449.9Z" fill="#3f78e6" stroke="#3f78e6" stroke-width=".6"/></svg>
<div style="left:522px;top:1096px;width:1074px;height:820px;background:#242424;border-radius:8px"></div>
<span class="t" style="left:579.4px;top:1141.3px;font-size:27.2px;color:#a9acb8;letter-spacing:0.39px">Traffic by Country</span>
<span class="t m" style="left:563.7px;top:1226.1px;font-size:24.8px;color:#ececec;letter-spacing:-0.23px">Count</span>
<svg class="ic" style="left:862.4px;top:1228.2px" width="12" height="18" viewBox="0 0 12 18" fill="#aeb1be"><circle cx="2.2" cy="2.2" r="1.9"/><circle cx="2.2" cy="8.9" r="1.9"/><circle cx="2.2" cy="15.6" r="1.9"/><circle cx="9" cy="2.2" r="1.9"/><circle cx="9" cy="8.9" r="1.9"/><circle cx="9" cy="15.6" r="1.9"/></svg>
<span class="t m" style="left:887.7px;top:1226.1px;font-size:24.8px;color:#ececec;letter-spacing:-0.61px">ClientCountry</span>
<span class="t m" style="left:559.8px;top:1280.1px;font-size:24.8px;color:#abaeba;letter-spacing:-0.78px">196</span>
<span class="t m" style="left:884.5px;top:1280.1px;font-size:24.8px;color:#abaeba;letter-spacing:-2.08px">AU</span>
<span class="t m" style="left:559.8px;top:1337.27px;font-size:24.8px;color:#abaeba;letter-spacing:-0.28px">137</span>
<span class="t m" style="left:883.5px;top:1337.27px;font-size:24.8px;color:#abaeba;letter-spacing:-2.08px">BR</span>
<span class="t m" style="left:559.8px;top:1394.44px;font-size:24.8px;color:#abaeba;letter-spacing:-0.78px">205</span>
<span class="t m" style="left:883.5px;top:1394.44px;font-size:24.8px;color:#abaeba;letter-spacing:-2.08px">CA</span>
<span class="t m" style="left:559.8px;top:1451.61px;font-size:24.8px;color:#abaeba;letter-spacing:-0.78px">364</span>
<span class="t m" style="left:883.5px;top:1451.61px;font-size:24.8px;color:#abaeba;letter-spacing:-1.08px">DE</span>
<span class="t m" style="left:559.8px;top:1508.78px;font-size:24.8px;color:#abaeba;letter-spacing:-0.78px">281</span>
<span class="t m" style="left:882.5px;top:1508.78px;font-size:24.8px;color:#abaeba;letter-spacing:-1.08px">FR</span>
<span class="t m" style="left:559.8px;top:1565.95px;font-size:24.8px;color:#abaeba;letter-spacing:-0.78px">462</span>
<span class="t m" style="left:883.5px;top:1565.95px;font-size:24.8px;color:#abaeba;letter-spacing:-1.08px">GB</span>
<span class="t m" style="left:559.8px;top:1623.12px;font-size:24.8px;color:#abaeba;letter-spacing:-0.78px">154</span>
<span class="t m" style="left:882.5px;top:1623.12px;font-size:24.8px;color:#abaeba;letter-spacing:0.92px">IN</span>
<span class="t m" style="left:559.8px;top:1680.29px;font-size:24.8px;color:#abaeba;letter-spacing:-0.78px">230</span>
<span class="t m" style="left:882.5px;top:1680.29px;font-size:24.8px;color:#abaeba;letter-spacing:-0.08px">JP</span>
<span class="t m" style="left:559.8px;top:1737.46px;font-size:24.8px;color:#abaeba;letter-spacing:-0.78px">133</span>
<span class="t m" style="left:883.5px;top:1737.46px;font-size:24.8px;color:#abaeba;letter-spacing:-2.08px">KR</span>
<span class="t m" style="left:559.8px;top:1794.63px;font-size:24.8px;color:#abaeba;letter-spacing:-1.08px">33</span>
<span class="t m" style="left:883.5px;top:1794.63px;font-size:24.8px;color:#abaeba;letter-spacing:-2.08px">MX</span>
<span class="t m" style="left:559.8px;top:1851.8px;font-size:24.8px;color:#abaeba;letter-spacing:-1.08px">66</span>
<span class="t m" style="left:883.5px;top:1851.8px;font-size:24.8px;color:#abaeba;letter-spacing:-1.08px">NL</span>
<svg class="ic" style="left:1456px;top:1220px" width="28" height="28" viewBox="0 0 24 24" fill="none" stroke="#a6a9b6" stroke-width="1.65" stroke-linecap="round" stroke-linejoin="round"><path d="M4 6l16 0 M4 18l5 0 M4 12h13a3 3 0 0 1 0 6h-4l2 -2m0 4l-2 -2"/></svg>
<svg class="ic" style="left:1500px;top:1218px" width="28" height="28" viewBox="0 0 24 24" fill="none" stroke="#a6a9b6" stroke-width="1.65" stroke-linecap="round" stroke-linejoin="round"><path d="M4 17v2a2 2 0 0 0 2 2h12a2 2 0 0 0 2 -2v-2 M7 11l5 5l5 -5 M12 4l0 12"/></svg>
<div style="left:1530.3px;top:1212px;width:29.7px;height:668px;background:#2a2a2a;box-shadow:inset 2px 0 0 #393939,inset -2px 0 0 #555"></div>
<div style="left:1538px;top:1218px;width:16px;height:458px;background:#636363;border-radius:8px"></div>
<div style="left:1616px;top:1096px;width:1074px;height:820px;background:#242424;border-radius:8px"></div>
<span class="t" style="left:1673.4px;top:1141.3px;font-size:27.2px;color:#a9acb8;letter-spacing:0.02px">Top Request Paths</span>
<span class="t m" style="left:1657.7px;top:1226.1px;font-size:24.8px;color:#ececec;letter-spacing:-0.11px">count()</span>
<svg class="ic" style="left:1956.4px;top:1228.2px" width="12" height="18" viewBox="0 0 12 18" fill="#aeb1be"><circle cx="2.2" cy="2.2" r="1.9"/><circle cx="2.2" cy="8.9" r="1.9"/><circle cx="2.2" cy="15.6" r="1.9"/><circle cx="9" cy="2.2" r="1.9"/><circle cx="9" cy="8.9" r="1.9"/><circle cx="9" cy="15.6" r="1.9"/></svg>
<span class="t m" style="left:1981.7px;top:1226.1px;font-size:24.8px;color:#ececec;letter-spacing:-0.44px">ClientRequestPath</span>
<span class="t m" style="left:1653.8px;top:1280.1px;font-size:24.8px;color:#abaeba;letter-spacing:-0.78px">138</span>
<span class="t m" style="left:1979.1px;top:1280.1px;font-size:24.8px;color:#abaeba">/</span>
<span class="t m" style="left:1653.8px;top:1337.27px;font-size:24.8px;color:#abaeba;letter-spacing:-0.78px">142</span>
<span class="t m" style="left:1977.5px;top:1337.27px;font-size:24.8px;color:#abaeba;letter-spacing:-0.46px">/api/v1/auth/login</span>
<span class="t m" style="left:1653.8px;top:1394.44px;font-size:24.8px;color:#abaeba;letter-spacing:-0.78px">163</span>
<span class="t m" style="left:1977.5px;top:1394.44px;font-size:24.8px;color:#abaeba;letter-spacing:-0.46px">/api/v1/auth/refresh</span>
<span class="t m" style="left:1653.8px;top:1451.61px;font-size:24.8px;color:#abaeba;letter-spacing:-0.78px">130</span>
<span class="t m" style="left:1977.5px;top:1451.61px;font-size:24.8px;color:#abaeba;letter-spacing:-0.45px">/api/v1/checkout</span>
<span class="t m" style="left:1653.8px;top:1508.78px;font-size:24.8px;color:#abaeba;letter-spacing:-0.78px">162</span>
<span class="t m" style="left:1977.5px;top:1508.78px;font-size:24.8px;color:#abaeba;letter-spacing:-0.58px">/api/v1/inventory</span>
<span class="t m" style="left:1653.8px;top:1565.95px;font-size:24.8px;color:#abaeba;letter-spacing:-0.78px">142</span>
<span class="t m" style="left:1977.5px;top:1565.95px;font-size:24.8px;color:#abaeba;letter-spacing:-0.46px">/api/v1/notifications</span>
<span class="t m" style="left:1653.8px;top:1623.12px;font-size:24.8px;color:#abaeba;letter-spacing:-0.78px">158</span>
<span class="t m" style="left:1977.5px;top:1623.12px;font-size:24.8px;color:#abaeba;letter-spacing:-0.45px">/api/v1/orders</span>
<span class="t m" style="left:1653.8px;top:1680.29px;font-size:24.8px;color:#abaeba;letter-spacing:-0.78px">144</span>
<span class="t m" style="left:1977.5px;top:1680.29px;font-size:24.8px;color:#abaeba;letter-spacing:-0.45px">/api/v1/products</span>
<span class="t m" style="left:1653.8px;top:1737.46px;font-size:24.8px;color:#abaeba;letter-spacing:-0.78px">152</span>
<span class="t m" style="left:1977.5px;top:1737.46px;font-size:24.8px;color:#abaeba;letter-spacing:-0.45px">/api/v1/search</span>
<span class="t m" style="left:1653.8px;top:1794.63px;font-size:24.8px;color:#abaeba;letter-spacing:-0.28px">167</span>
<span class="t m" style="left:1977.5px;top:1794.63px;font-size:24.8px;color:#abaeba;letter-spacing:-0.45px">/api/v1/users</span>
<span class="t m" style="left:1653.8px;top:1851.8px;font-size:24.8px;color:#abaeba;letter-spacing:-0.78px">142</span>
<span class="t m" style="left:1977.5px;top:1851.8px;font-size:24.8px;color:#abaeba;letter-spacing:-0.45px">/assets/logo.png</span>
<svg class="ic" style="left:2550px;top:1220px" width="28" height="28" viewBox="0 0 24 24" fill="none" stroke="#a6a9b6" stroke-width="1.65" stroke-linecap="round" stroke-linejoin="round"><path d="M4 6l16 0 M4 18l5 0 M4 12h13a3 3 0 0 1 0 6h-4l2 -2m0 4l-2 -2"/></svg>
<svg class="ic" style="left:2594px;top:1218px" width="28" height="28" viewBox="0 0 24 24" fill="none" stroke="#a6a9b6" stroke-width="1.65" stroke-linecap="round" stroke-linejoin="round"><path d="M4 17v2a2 2 0 0 0 2 2h12a2 2 0 0 0 2 -2v-2 M7 11l5 5l5 -5 M12 4l0 12"/></svg>
<div style="left:2624.3px;top:1212px;width:29.7px;height:668px;background:#2a2a2a;box-shadow:inset 2px 0 0 #393939,inset -2px 0 0 #555"></div>
<div style="left:2632px;top:1218px;width:16px;height:228px;background:#636363;border-radius:8px"></div>
<div style="left:2710px;top:1096px;width:1074px;height:820px;background:#242424;border-radius:8px"></div>
<span class="t" style="left:2747.1px;top:1121.1px;font-size:27.2px;color:#a9acb8;letter-spacing:0.29px">Traffic by Edge Location</span>
<svg class="ic" style="left:3674px;top:1134px" width="32" height="32" viewBox="0 0 24 24" fill="none" stroke="#f6f66b" stroke-width="1.9" stroke-linecap="round" stroke-linejoin="round"><path d="M4 19l16 0 M4 15l4 -6l4 2l4 -5l4 4"/></svg>
<svg class="ic" style="left:3714px;top:1134px" width="32" height="32" viewBox="0 0 24 24" fill="none" stroke="#b4b8c6" stroke-width="1.9" stroke-linecap="round" stroke-linejoin="round"><path d="M3 13a1 1 0 0 1 1 -1h4a1 1 0 0 1 1 1v6a1 1 0 0 1 -1 1h-4a1 1 0 0 1 -1 -1z M15 9a1 1 0 0 1 1 -1h4a1 1 0 0 1 1 1v10a1 1 0 0 1 -1 1h-4a1 1 0 0 1 -1 -1z M9 5a1 1 0 0 1 1 -1h4a1 1 0 0 1 1 1v14a1 1 0 0 1 -1 1h-4a1 1 0 0 1 -1 -1z M4 20h14"/></svg>
<svg class="ic" style="left:2710px;top:1096px" width="1074" height="820" viewBox="0 0 1074 820" fill="none"><defs><linearGradient id="g2710_0" x1="0" y1="0" x2="0" y2="1"><stop offset="0" stop-color="#3f78e6" stop-opacity=".06"/><stop offset=".4" stop-color="#3f78e6" stop-opacity="0"/></linearGradient><linearGradient id="g2710_1" x1="0" y1="0" x2="0" y2="1"><stop offset="0" stop-color="#e8aa3a" stop-opacity=".06"/><stop offset=".4" stop-color="#e8aa3a" stop-opacity="0"/></linearGradient><linearGradient id="g2710_2" x1="0" y1="0" x2="0" y2="1"><stop offset="0" stop-color="#f3705a" stop-opacity=".06"/><stop offset=".4" stop-color="#f3705a" stop-opacity="0"/></linearGradient><linearGradient id="g2710_3" x1="0" y1="0" x2="0" y2="1"><stop offset="0" stop-color="#70baa8" stop-opacity=".06"/><stop offset=".4" stop-color="#70baa8" stop-opacity="0"/></linearGradient><linearGradient id="g2710_4" x1="0" y1="0" x2="0" y2="1"><stop offset="0" stop-color="#4b9b52" stop-opacity=".06"/><stop offset=".4" stop-color="#4b9b52" stop-opacity="0"/></linearGradient><linearGradient id="g2710_5" x1="0" y1="0" x2="0" y2="1"><stop offset="0" stop-color="#f587af" stop-opacity=".06"/><stop offset=".4" stop-color="#f587af" stop-opacity="0"/></linearGradient><linearGradient id="g2710_6" x1="0" y1="0" x2="0" y2="1"><stop offset="0" stop-color="#a66bf0" stop-opacity=".06"/><stop offset=".4" stop-color="#a66bf0" stop-opacity="0"/></linearGradient><linearGradient id="g2710_7" x1="0" y1="0" x2="0" y2="1"><stop offset="0" stop-color="#95b8f4" stop-opacity=".06"/><stop offset=".4" stop-color="#95b8f4" stop-opacity="0"/></linearGradient><linearGradient id="g2710_8" x1="0" y1="0" x2="0" y2="1"><stop offset="0" stop-color="#9c6b4e" stop-opacity=".06"/><stop offset=".4" stop-color="#9c6b4e" stop-opacity="0"/></linearGradient><linearGradient id="g2710_9" x1="0" y1="0" x2="0" y2="1"><stop offset="0" stop-color="#9498a0" stop-opacity=".06"/><stop offset=".4" stop-color="#9498a0" stop-opacity="0"/></linearGradient><linearGradient id="g2710_10" x1="0" y1="0" x2="0" y2="1"><stop offset="0" stop-color="#3f78e6" stop-opacity=".06"/><stop offset=".4" stop-color="#3f78e6" stop-opacity="0"/></linearGradient><linearGradient id="g2710_11" x1="0" y1="0" x2="0" y2="1"><stop offset="0" stop-color="#e8aa3a" stop-opacity=".06"/><stop offset=".4" stop-color="#e8aa3a" stop-opacity="0"/></linearGradient><linearGradient id="g2710_12" x1="0" y1="0" x2="0" y2="1"><stop offset="0" stop-color="#f3705a" stop-opacity=".06"/><stop offset=".4" stop-color="#f3705a" stop-opacity="0"/></linearGradient><linearGradient id="g2710_13" x1="0" y1="0" x2="0" y2="1"><stop offset="0" stop-color="#70baa8" stop-opacity=".06"/><stop offset=".4" stop-color="#70baa8" stop-opacity="0"/></linearGradient><linearGradient id="g2710_14" x1="0" y1="0" x2="0" y2="1"><stop offset="0" stop-color="#4b9b52" stop-opacity=".06"/><stop offset=".4" stop-color="#4b9b52" stop-opacity="0"/></linearGradient></defs><path d="M106,357.6C112.68,471.6,119.35,585.6,126.03,585.6C132.71,585.6,139.38,509.6,146.06,471.6C152.74,433.6,159.41,357.6,166.09,357.6C172.77,357.6,179.44,490.6,186.12,528.6C192.8,566.6,199.47,585.6,206.15,585.6C212.83,585.6,219.5,538.1,226.18,500.1C232.86,462.1,239.53,357.6,246.21,357.6C252.89,357.6,259.56,414.6,266.24,414.6C272.91,414.6,279.59,386.1,286.27,386.1C292.94,386.1,299.62,538.1,306.3,557.1C312.97,576.1,319.65,585.6,326.33,585.6C333,585.6,339.68,471.6,346.36,471.6C353.03,471.6,359.71,614.1,366.39,614.1C373.06,614.1,379.74,462.1,386.42,443.1C393.09,424.1,399.77,414.6,406.45,414.6C413.12,414.6,419.8,414.6,426.48,414.6C433.15,414.6,439.83,557.1,446.51,557.1C453.18,557.1,459.86,414.6,466.54,414.6C473.21,414.6,479.89,528.6,486.57,528.6C493.24,528.6,499.92,528.6,506.6,528.6C513.27,528.6,519.95,495.35,526.63,471.6C533.3,447.85,539.98,386.1,546.66,386.1C553.33,386.1,560.01,395.6,566.69,414.6C573.36,433.6,580.04,500.1,586.71,500.1C593.39,500.1,600.07,414.6,606.74,414.6C613.42,414.6,620.1,414.6,626.77,414.6C633.45,414.6,640.13,614.1,646.8,614.1C653.48,614.1,660.16,376.6,666.83,357.6C673.51,338.6,680.19,329.1,686.86,329.1C693.54,329.1,700.22,428.85,706.89,471.6C713.57,514.35,720.25,585.6,726.92,585.6C733.6,585.6,740.28,386.1,746.95,386.1C753.63,386.1,760.31,500.1,766.98,500.1C773.66,500.1,780.34,443.1,787.01,414.6C793.69,386.1,800.37,329.1,807.04,329.1C813.72,329.1,820.4,699.6,827.07,699.6C833.75,699.6,840.43,699.6,847.1,699.6C853.78,699.6,860.46,699.6,867.13,699.6C873.81,699.6,880.49,699.6,887.16,699.6C893.84,699.6,900.51,699.6,907.19,699.6C913.87,699.6,920.54,699.6,927.22,699.6C933.9,699.6,940.57,699.6,947.25,699.6C953.93,699.6,960.6,699.6,967.28,699.6C973.96,699.6,980.63,699.6,987.31,699.6C993.99,699.6,1000.66,699.6,1007.34,699.6C1014.02,699.6,1020.69,699.6,1027.37,699.6C1034.05,699.6,1040.72,699.6,1047.4,699.6L1047.4,699.6L106,699.6Z" fill="url(#g2710_0)"/><path d="M106,471.6C112.68,500.1,119.35,528.6,126.03,528.6C132.71,528.6,139.38,466.85,146.06,443.1C152.74,419.35,159.41,386.1,166.09,386.1C172.77,386.1,179.44,471.6,186.12,500.1C192.8,528.6,199.47,557.1,206.15,557.1C212.83,557.1,219.5,471.6,226.18,471.6C232.86,471.6,239.53,557.1,246.21,557.1C252.89,557.1,259.56,443.1,266.24,443.1C272.91,443.1,279.59,443.1,286.27,443.1C292.94,443.1,299.62,528.6,306.3,528.6C312.97,528.6,319.65,471.6,326.33,471.6C333,471.6,339.68,514.35,346.36,528.6C353.03,542.85,359.71,547.6,366.39,557.1C373.06,566.6,379.74,585.6,386.42,585.6C393.09,585.6,399.77,557.1,406.45,557.1C413.12,557.1,419.8,557.1,426.48,557.1C433.15,557.1,439.83,414.6,446.51,414.6C453.18,414.6,459.86,428.85,466.54,443.1C473.21,457.35,479.89,500.1,486.57,500.1C493.24,500.1,499.92,462.1,506.6,443.1C513.27,424.1,519.95,386.1,526.63,386.1C533.3,386.1,539.98,471.6,546.66,471.6C553.33,471.6,560.01,329.1,566.69,329.1C573.36,329.1,580.04,614.1,586.71,614.1C593.39,614.1,600.07,557.1,606.74,557.1C613.42,557.1,620.1,642.6,626.77,642.6C633.45,642.6,640.13,642.6,646.8,642.6C653.48,642.6,660.16,604.6,666.83,585.6C673.51,566.6,680.19,547.6,686.86,528.6C693.54,509.6,700.22,471.6,706.89,471.6C713.57,471.6,720.25,471.6,726.92,471.6C733.6,471.6,740.28,414.6,746.95,414.6C753.63,414.6,760.31,471.6,766.98,471.6C773.66,471.6,780.34,443.1,787.01,443.1C793.69,443.1,800.37,514.35,807.04,557.1C813.72,599.85,820.4,699.6,827.07,699.6C833.75,699.6,840.43,699.6,847.1,699.6C853.78,699.6,860.46,699.6,867.13,699.6C873.81,699.6,880.49,699.6,887.16,699.6C893.84,699.6,900.51,699.6,907.19,699.6C913.87,699.6,920.54,699.6,927.22,699.6C933.9,699.6,940.57,699.6,947.25,699.6C953.93,699.6,960.6,699.6,967.28,699.6C973.96,699.6,980.63,699.6,987.31,699.6C993.99,699.6,1000.66,699.6,1007.34,699.6C1014.02,699.6,1020.69,699.6,1027.37,699.6C1034.05,699.6,1040.72,699.6,1047.4,699.6L1047.4,699.6L106,699.6Z" fill="url(#g2710_1)"/><path d="M106,500.1C112.68,557.1,119.35,614.1,126.03,614.1C132.71,614.1,139.38,519.1,146.06,500.1C152.74,481.1,159.41,471.6,166.09,471.6C172.77,471.6,179.44,557.1,186.12,557.1C192.8,557.1,199.47,414.6,206.15,414.6C212.83,414.6,219.5,471.6,226.18,471.6C232.86,471.6,239.53,471.6,246.21,471.6C252.89,471.6,259.56,585.6,266.24,585.6C272.91,585.6,279.59,443.1,286.27,443.1C292.94,443.1,299.62,557.1,306.3,557.1C312.97,557.1,319.65,528.6,326.33,528.6C333,528.6,339.68,528.6,346.36,528.6C353.03,528.6,359.71,476.35,366.39,443.1C373.06,409.85,379.74,329.1,386.42,329.1C393.09,329.1,399.77,500.1,406.45,500.1C413.12,500.1,419.8,414.6,426.48,414.6C433.15,414.6,439.83,471.6,446.51,471.6C453.18,471.6,459.86,300.6,466.54,300.6C473.21,300.6,479.89,509.6,486.57,528.6C493.24,547.6,499.92,557.1,506.6,557.1C513.27,557.1,519.95,557.1,526.63,557.1C533.3,557.1,539.98,614.1,546.66,614.1C553.33,614.1,560.01,523.85,566.69,471.6C573.36,419.35,580.04,300.6,586.71,300.6C593.39,300.6,600.07,462.1,606.74,500.1C613.42,538.1,620.1,557.1,626.77,557.1C633.45,557.1,640.13,471.6,646.8,471.6C653.48,471.6,660.16,614.1,666.83,614.1C673.51,614.1,680.19,547.6,686.86,528.6C693.54,509.6,700.22,500.1,706.89,500.1C713.57,500.1,720.25,500.1,726.92,500.1C733.6,500.1,740.28,500.1,746.95,500.1C753.63,500.1,760.31,557.1,766.98,557.1C773.66,557.1,780.34,272.1,787.01,272.1C793.69,272.1,800.37,343.35,807.04,414.6C813.72,485.85,820.4,699.6,827.07,699.6C833.75,699.6,840.43,699.6,847.1,699.6C853.78,699.6,860.46,699.6,867.13,699.6C873.81,699.6,880.49,699.6,887.16,699.6C893.84,699.6,900.51,699.6,907.19,699.6C913.87,699.6,920.54,699.6,927.22,699.6C933.9,699.6,940.57,699.6,947.25,699.6C953.93,699.6,960.6,699.6,967.28,699.6C973.96,699.6,980.63,699.6,987.31,699.6C993.99,699.6,1000.66,699.6,1007.34,699.6C1014.02,699.6,1020.69,699.6,1027.37,699.6C1034.05,699.6,1040.72,699.6,1047.4,699.6L1047.4,699.6L106,699.6Z" fill="url(#g2710_2)"/><path d="M106,329.1C112.68,395.6,119.35,462.1,126.03,500.1C132.71,538.1,139.38,557.1,146.06,557.1C152.74,557.1,159.41,538.1,166.09,528.6C172.77,519.1,179.44,500.1,186.12,500.1C192.8,500.1,199.47,614.1,206.15,614.1C212.83,614.1,219.5,272.1,226.18,272.1C232.86,272.1,239.53,400.35,246.21,443.1C252.89,485.85,259.56,528.6,266.24,528.6C272.91,528.6,279.59,500.1,286.27,500.1C292.94,500.1,299.62,500.1,306.3,500.1C312.97,500.1,319.65,519.1,326.33,528.6C333,538.1,339.68,557.1,346.36,557.1C353.03,557.1,359.71,386.1,366.39,386.1C373.06,386.1,379.74,471.6,386.42,471.6C393.09,471.6,399.77,405.1,406.45,386.1C413.12,367.1,419.8,357.6,426.48,357.6C433.15,357.6,439.83,557.1,446.51,557.1C453.18,557.1,459.86,471.6,466.54,471.6C473.21,471.6,479.89,642.6,486.57,642.6C493.24,642.6,499.92,528.6,506.6,528.6C513.27,528.6,519.95,542.85,526.63,557.1C533.3,571.35,539.98,614.1,546.66,614.1C553.33,614.1,560.01,357.6,566.69,357.6C573.36,357.6,580.04,357.6,586.71,357.6C593.39,357.6,600.07,386.1,606.74,414.6C613.42,443.1,620.1,528.6,626.77,528.6C633.45,528.6,640.13,528.6,646.8,528.6C653.48,528.6,660.16,528.6,666.83,528.6C673.51,528.6,680.19,528.6,686.86,528.6C693.54,528.6,700.22,557.1,706.89,557.1C713.57,557.1,720.25,500.1,726.92,500.1C733.6,500.1,740.28,557.1,746.95,557.1C753.63,557.1,760.31,500.1,766.98,500.1C773.66,500.1,780.34,614.1,787.01,614.1C793.69,614.1,800.37,528.6,807.04,528.6C813.72,528.6,820.4,699.6,827.07,699.6C833.75,699.6,840.43,699.6,847.1,699.6C853.78,699.6,860.46,699.6,867.13,699.6C873.81,699.6,880.49,699.6,887.16,699.6C893.84,699.6,900.51,699.6,907.19,699.6C913.87,699.6,920.54,699.6,927.22,699.6C933.9,699.6,940.57,699.6,947.25,699.6C953.93,699.6,960.6,699.6,967.28,699.6C973.96,699.6,980.63,699.6,987.31,699.6C993.99,699.6,1000.66,699.6,1007.34,699.6C1014.02,699.6,1020.69,699.6,1027.37,699.6C1034.05,699.6,1040.72,699.6,1047.4,699.6L1047.4,699.6L106,699.6Z" fill="url(#g2710_3)"/><path d="M106,443.1C112.68,500.1,119.35,557.1,126.03,557.1C132.71,557.1,139.38,500.1,146.06,500.1C152.74,500.1,159.41,500.1,166.09,500.1C172.77,500.1,179.44,557.1,186.12,557.1C192.8,557.1,199.47,528.6,206.15,528.6C212.83,528.6,219.5,614.1,226.18,614.1C232.86,614.1,239.53,386.1,246.21,386.1C252.89,386.1,259.56,614.1,266.24,614.1C272.91,614.1,279.59,357.6,286.27,357.6C292.94,357.6,299.62,585.6,306.3,585.6C312.97,585.6,319.65,329.1,326.33,329.1C333,329.1,339.68,614.1,346.36,614.1C353.03,614.1,359.71,614.1,366.39,614.1C373.06,614.1,379.74,614.1,386.42,614.1C393.09,614.1,399.77,129.6,406.45,129.6C413.12,129.6,419.8,414.6,426.48,471.6C433.15,528.6,439.83,557.1,446.51,557.1C453.18,557.1,459.86,547.6,466.54,528.6C473.21,509.6,479.89,443.1,486.57,443.1C493.24,443.1,499.92,523.85,506.6,557.1C513.27,590.35,519.95,642.6,526.63,642.6C533.3,642.6,539.98,443.1,546.66,443.1C553.33,443.1,560.01,500.1,566.69,500.1C573.36,500.1,580.04,386.1,586.71,386.1C593.39,386.1,600.07,466.85,606.74,500.1C613.42,533.35,620.1,585.6,626.77,585.6C633.45,585.6,640.13,414.6,646.8,414.6C653.48,414.6,660.16,500.1,666.83,500.1C673.51,500.1,680.19,466.85,686.86,443.1C693.54,419.35,700.22,357.6,706.89,357.6C713.57,357.6,720.25,443.1,726.92,471.6C733.6,500.1,740.28,528.6,746.95,528.6C753.63,528.6,760.31,528.6,766.98,528.6C773.66,528.6,780.34,557.1,787.01,557.1C793.69,557.1,800.37,443.1,807.04,443.1C813.72,443.1,820.4,699.6,827.07,699.6C833.75,699.6,840.43,699.6,847.1,699.6C853.78,699.6,860.46,699.6,867.13,699.6C873.81,699.6,880.49,699.6,887.16,699.6C893.84,699.6,900.51,699.6,907.19,699.6C913.87,699.6,920.54,699.6,927.22,699.6C933.9,699.6,940.57,699.6,947.25,699.6C953.93,699.6,960.6,699.6,967.28,699.6C973.96,699.6,980.63,699.6,987.31,699.6C993.99,699.6,1000.66,699.6,1007.34,699.6C1014.02,699.6,1020.69,699.6,1027.37,699.6C1034.05,699.6,1040.72,699.6,1047.4,699.6L1047.4,699.6L106,699.6Z" fill="url(#g2710_4)"/><path d="M106,414.6C112.68,435.98,119.35,457.35,126.03,471.6C132.71,485.85,139.38,500.1,146.06,500.1C152.74,500.1,159.41,471.6,166.09,471.6C172.77,471.6,179.44,528.6,186.12,528.6C192.8,528.6,199.47,357.6,206.15,357.6C212.83,357.6,219.5,443.1,226.18,443.1C232.86,443.1,239.53,443.1,246.21,443.1C252.89,443.1,259.56,614.1,266.24,614.1C272.91,614.1,279.59,514.35,286.27,471.6C292.94,428.85,299.62,357.6,306.3,357.6C312.97,357.6,319.65,557.1,326.33,557.1C333,557.1,339.68,414.6,346.36,414.6C353.03,414.6,359.71,671.1,366.39,671.1C373.06,671.1,379.74,471.6,386.42,471.6C393.09,471.6,399.77,557.1,406.45,557.1C413.12,557.1,419.8,557.1,426.48,557.1C433.15,557.1,439.83,614.1,446.51,614.1C453.18,614.1,459.86,471.6,466.54,471.6C473.21,471.6,479.89,528.6,486.57,528.6C493.24,528.6,499.92,471.6,506.6,471.6C513.27,471.6,519.95,585.6,526.63,585.6C533.3,585.6,539.98,557.1,546.66,557.1C553.33,557.1,560.01,585.6,566.69,585.6C573.36,585.6,580.04,585.6,586.71,585.6C593.39,585.6,600.07,528.6,606.74,500.1C613.42,471.6,620.1,414.6,626.77,414.6C633.45,414.6,640.13,471.6,646.8,471.6C653.48,471.6,660.16,386.1,666.83,386.1C673.51,386.1,680.19,528.6,686.86,528.6C693.54,528.6,700.22,528.6,706.89,528.6C713.57,528.6,720.25,514.35,726.92,500.1C733.6,485.85,740.28,443.1,746.95,443.1C753.63,443.1,760.31,457.35,766.98,471.6C773.66,485.85,780.34,528.6,787.01,528.6C793.69,528.6,800.37,500.1,807.04,500.1C813.72,500.1,820.4,699.6,827.07,699.6C833.75,699.6,840.43,699.6,847.1,699.6C853.78,699.6,860.46,699.6,867.13,699.6C873.81,699.6,880.49,699.6,887.16,699.6C893.84,699.6,900.51,699.6,907.19,699.6C913.87,699.6,920.54,699.6,927.22,699.6C933.9,699.6,940.57,699.6,947.25,699.6C953.93,699.6,960.6,699.6,967.28,699.6C973.96,699.6,980.63,699.6,987.31,699.6C993.99,699.6,1000.66,699.6,1007.34,699.6C1014.02,699.6,1020.69,699.6,1027.37,699.6C1034.05,699.6,1040.72,699.6,1047.4,699.6L1047.4,699.6L106,699.6Z" fill="url(#g2710_5)"/><path d="M106,528.6C112.68,542.85,119.35,557.1,126.03,557.1C132.71,557.1,139.38,528.6,146.06,528.6C152.74,528.6,159.41,585.6,166.09,585.6C172.77,585.6,179.44,547.6,186.12,528.6C192.8,509.6,199.47,495.35,206.15,471.6C212.83,447.85,219.5,386.1,226.18,386.1C232.86,386.1,239.53,443.1,246.21,443.1C252.89,443.1,259.56,386.1,266.24,386.1C272.91,386.1,279.59,585.6,286.27,585.6C292.94,585.6,299.62,519.1,306.3,500.1C312.97,481.1,319.65,471.6,326.33,471.6C333,471.6,339.68,528.6,346.36,528.6C353.03,528.6,359.71,528.6,366.39,528.6C373.06,528.6,379.74,519.1,386.42,500.1C393.09,481.1,399.77,414.6,406.45,414.6C413.12,414.6,419.8,452.6,426.48,471.6C433.15,490.6,439.83,528.6,446.51,528.6C453.18,528.6,459.86,443.1,466.54,443.1C473.21,443.1,479.89,462.1,486.57,471.6C493.24,481.1,499.92,490.6,506.6,500.1C513.27,509.6,519.95,528.6,526.63,528.6C533.3,528.6,539.98,509.6,546.66,500.1C553.33,490.6,560.01,471.6,566.69,471.6C573.36,471.6,580.04,528.6,586.71,528.6C593.39,528.6,600.07,528.6,606.74,528.6C613.42,528.6,620.1,614.1,626.77,614.1C633.45,614.1,640.13,528.6,646.8,500.1C653.48,471.6,660.16,443.1,666.83,443.1C673.51,443.1,680.19,471.6,686.86,471.6C693.54,471.6,700.22,471.6,706.89,471.6C713.57,471.6,720.25,528.6,726.92,528.6C733.6,528.6,740.28,471.6,746.95,471.6C753.63,471.6,760.31,485.85,766.98,500.1C773.66,514.35,780.34,557.1,787.01,557.1C793.69,557.1,800.37,386.1,807.04,386.1C813.72,386.1,820.4,699.6,827.07,699.6C833.75,699.6,840.43,699.6,847.1,699.6C853.78,699.6,860.46,699.6,867.13,699.6C873.81,699.6,880.49,699.6,887.16,699.6C893.84,699.6,900.51,699.6,907.19,699.6C913.87,699.6,920.54,699.6,927.22,699.6C933.9,699.6,940.57,699.6,947.25,699.6C953.93,699.6,960.6,699.6,967.28,699.6C973.96,699.6,980.63,699.6,987.31,699.6C993.99,699.6,1000.66,699.6,1007.34,699.6C1014.02,699.6,1020.69,699.6,1027.37,699.6C1034.05,699.6,1040.72,699.6,1047.4,699.6L1047.4,699.6L106,699.6Z" fill="url(#g2710_6)"/><path d="M106,528.6C112.68,528.6,119.35,528.6,126.03,528.6C132.71,528.6,139.38,542.85,146.06,557.1C152.74,571.35,159.41,614.1,166.09,614.1C172.77,614.1,179.44,557.1,186.12,528.6C192.8,500.1,199.47,443.1,206.15,443.1C212.83,443.1,219.5,642.6,226.18,642.6C232.86,642.6,239.53,576.1,246.21,557.1C252.89,538.1,259.56,547.6,266.24,528.6C272.91,509.6,279.59,386.1,286.27,386.1C292.94,386.1,299.62,471.6,306.3,471.6C312.97,471.6,319.65,386.1,326.33,386.1C333,386.1,339.68,500.1,346.36,500.1C353.03,500.1,359.71,443.1,366.39,443.1C373.06,443.1,379.74,585.6,386.42,585.6C393.09,585.6,399.77,542.85,406.45,528.6C413.12,514.35,419.8,514.35,426.48,500.1C433.15,485.85,439.83,443.1,446.51,443.1C453.18,443.1,459.86,471.6,466.54,471.6C473.21,471.6,479.89,376.6,486.57,357.6C493.24,338.6,499.92,329.1,506.6,329.1C513.27,329.1,519.95,614.1,526.63,614.1C533.3,614.1,539.98,386.1,546.66,386.1C553.33,386.1,560.01,490.6,566.69,528.6C573.36,566.6,580.04,614.1,586.71,614.1C593.39,614.1,600.07,490.6,606.74,471.6C613.42,452.6,620.1,443.1,626.77,443.1C633.45,443.1,640.13,500.1,646.8,500.1C653.48,500.1,660.16,500.1,666.83,500.1C673.51,500.1,680.19,557.1,686.86,557.1C693.54,557.1,700.22,557.1,706.89,557.1C713.57,557.1,720.25,443.1,726.92,443.1C733.6,443.1,740.28,642.6,746.95,642.6C753.63,642.6,760.31,542.85,766.98,500.1C773.66,457.35,780.34,386.1,787.01,386.1C793.69,386.1,800.37,395.6,807.04,414.6C813.72,433.6,820.4,699.6,827.07,699.6C833.75,699.6,840.43,699.6,847.1,699.6C853.78,699.6,860.46,699.6,867.13,699.6C873.81,699.6,880.49,699.6,887.16,699.6C893.84,699.6,900.51,699.6,907.19,699.6C913.87,699.6,920.54,699.6,927.22,699.6C933.9,699.6,940.57,699.6,947.25,699.6C953.93,699.6,960.6,699.6,967.28,699.6C973.96,699.6,980.63,699.6,987.31,699.6C993.99,699.6,1000.66,699.6,1007.34,699.6C1014.02,699.6,1020.69,699.6,1027.37,699.6C1034.05,699.6,1040.72,699.6,1047.4,699.6L1047.4,699.6L106,699.6Z" fill="url(#g2710_7)"/><path d="M106,500.1C112.68,471.6,119.35,443.1,126.03,443.1C132.71,443.1,139.38,528.6,146.06,528.6C152.74,528.6,159.41,528.6,166.09,528.6C172.77,528.6,179.44,528.6,186.12,528.6C192.8,528.6,199.47,585.6,206.15,585.6C212.83,585.6,219.5,585.6,226.18,585.6C232.86,585.6,239.53,642.6,246.21,642.6C252.89,642.6,259.56,528.6,266.24,528.6C272.91,528.6,279.59,585.6,286.27,585.6C292.94,585.6,299.62,471.6,306.3,471.6C312.97,471.6,319.65,614.1,326.33,614.1C333,614.1,339.68,471.6,346.36,471.6C353.03,471.6,359.71,500.1,366.39,500.1C373.06,500.1,379.74,500.1,386.42,500.1C393.09,500.1,399.77,614.1,406.45,614.1C413.12,614.1,419.8,528.6,426.48,528.6C433.15,528.6,439.83,585.6,446.51,585.6C453.18,585.6,459.86,571.35,466.54,557.1C473.21,542.85,479.89,500.1,486.57,500.1C493.24,500.1,499.92,528.6,506.6,528.6C513.27,528.6,519.95,414.6,526.63,414.6C533.3,414.6,539.98,528.6,546.66,528.6C553.33,528.6,560.01,443.1,566.69,443.1C573.36,443.1,580.04,476.35,586.71,500.1C593.39,523.85,600.07,585.6,606.74,585.6C613.42,585.6,620.1,557.1,626.77,557.1C633.45,557.1,640.13,557.1,646.8,557.1C653.48,557.1,660.16,357.6,666.83,357.6C673.51,357.6,680.19,367.1,686.86,386.1C693.54,405.1,700.22,642.6,706.89,642.6C713.57,642.6,720.25,557.1,726.92,528.6C733.6,500.1,740.28,500.1,746.95,471.6C753.63,443.1,760.31,357.6,766.98,357.6C773.66,357.6,780.34,671.1,787.01,671.1C793.69,671.1,800.37,557.1,807.04,557.1C813.72,557.1,820.4,699.6,827.07,699.6C833.75,699.6,840.43,699.6,847.1,699.6C853.78,699.6,860.46,699.6,867.13,699.6C873.81,699.6,880.49,699.6,887.16,699.6C893.84,699.6,900.51,699.6,907.19,699.6C913.87,699.6,920.54,699.6,927.22,699.6C933.9,699.6,940.57,699.6,947.25,699.6C953.93,699.6,960.6,699.6,967.28,699.6C973.96,699.6,980.63,699.6,987.31,699.6C993.99,699.6,1000.66,699.6,1007.34,699.6C1014.02,699.6,1020.69,699.6,1027.37,699.6C1034.05,699.6,1040.72,699.6,1047.4,699.6L1047.4,699.6L106,699.6Z" fill="url(#g2710_8)"/><path d="M106,500.1C112.68,514.35,119.35,528.6,126.03,528.6C132.71,528.6,139.38,500.1,146.06,500.1C152.74,500.1,159.41,500.1,166.09,500.1C172.77,500.1,179.44,414.6,186.12,414.6C192.8,414.6,199.47,528.6,206.15,528.6C212.83,528.6,219.5,329.1,226.18,329.1C232.86,329.1,239.53,500.1,246.21,500.1C252.89,500.1,259.56,414.6,266.24,414.6C272.91,414.6,279.59,452.6,286.27,471.6C292.94,490.6,299.62,528.6,306.3,528.6C312.97,528.6,319.65,500.1,326.33,500.1C333,500.1,339.68,585.6,346.36,585.6C353.03,585.6,359.71,357.6,366.39,357.6C373.06,357.6,379.74,557.1,386.42,557.1C393.09,557.1,399.77,471.6,406.45,471.6C413.12,471.6,419.8,585.6,426.48,585.6C433.15,585.6,439.83,547.6,446.51,528.6C453.18,509.6,459.86,471.6,466.54,471.6C473.21,471.6,479.89,471.6,486.57,471.6C493.24,471.6,499.92,471.6,506.6,471.6C513.27,471.6,519.95,386.1,526.63,386.1C533.3,386.1,539.98,500.1,546.66,500.1C553.33,500.1,560.01,500.1,566.69,500.1C573.36,500.1,580.04,471.6,586.71,471.6C593.39,471.6,600.07,528.6,606.74,528.6C613.42,528.6,620.1,485.85,626.77,443.1C633.45,400.35,640.13,272.1,646.8,272.1C653.48,272.1,660.16,614.1,666.83,614.1C673.51,614.1,680.19,500.1,686.86,500.1C693.54,500.1,700.22,528.6,706.89,528.6C713.57,528.6,720.25,414.6,726.92,414.6C733.6,414.6,740.28,614.1,746.95,614.1C753.63,614.1,760.31,443.1,766.98,443.1C773.66,443.1,780.34,585.6,787.01,585.6C793.69,585.6,800.37,585.6,807.04,585.6C813.72,585.6,820.4,699.6,827.07,699.6C833.75,699.6,840.43,699.6,847.1,699.6C853.78,699.6,860.46,699.6,867.13,699.6C873.81,699.6,880.49,699.6,887.16,699.6C893.84,699.6,900.51,699.6,907.19,699.6C913.87,699.6,920.54,699.6,927.22,699.6C933.9,699.6,940.57,699.6,947.25,699.6C953.93,699.6,960.6,699.6,967.28,699.6C973.96,699.6,980.63,699.6,987.31,699.6C993.99,699.6,1000.66,699.6,1007.34,699.6C1014.02,699.6,1020.69,699.6,1027.37,699.6C1034.05,699.6,1040.72,699.6,1047.4,699.6L1047.4,699.6L106,699.6Z" fill="url(#g2710_9)"/><path d="M106,386.1C112.68,433.6,119.35,481.1,126.03,500.1C132.71,519.1,139.38,514.35,146.06,528.6C152.74,542.85,159.41,585.6,166.09,585.6C172.77,585.6,179.44,443.1,186.12,443.1C192.8,443.1,199.47,500.1,206.15,500.1C212.83,500.1,219.5,471.6,226.18,471.6C232.86,471.6,239.53,514.35,246.21,528.6C252.89,542.85,259.56,557.1,266.24,557.1C272.91,557.1,279.59,542.85,286.27,528.6C292.94,514.35,299.62,471.6,306.3,471.6C312.97,471.6,319.65,557.1,326.33,557.1C333,557.1,339.68,500.1,346.36,500.1C353.03,500.1,359.71,585.6,366.39,585.6C373.06,585.6,379.74,566.6,386.42,557.1C393.09,547.6,399.77,542.85,406.45,528.6C413.12,514.35,419.8,471.6,426.48,471.6C433.15,471.6,439.83,471.6,446.51,471.6C453.18,471.6,459.86,557.1,466.54,557.1C473.21,557.1,479.89,471.6,486.57,471.6C493.24,471.6,499.92,528.6,506.6,528.6C513.27,528.6,519.95,443.1,526.63,443.1C533.3,443.1,539.98,585.6,546.66,585.6C553.33,585.6,560.01,547.6,566.69,528.6C573.36,509.6,580.04,471.6,586.71,471.6C593.39,471.6,600.07,557.1,606.74,557.1C613.42,557.1,620.1,500.1,626.77,500.1C633.45,500.1,640.13,528.6,646.8,528.6C653.48,528.6,660.16,485.85,666.83,471.6C673.51,457.35,680.19,457.35,686.86,443.1C693.54,428.85,700.22,386.1,706.89,386.1C713.57,386.1,720.25,528.6,726.92,528.6C733.6,528.6,740.28,471.6,746.95,471.6C753.63,471.6,760.31,471.6,766.98,471.6C773.66,471.6,780.34,471.6,787.01,471.6C793.69,471.6,800.37,481.1,807.04,500.1C813.72,519.1,820.4,699.6,827.07,699.6C833.75,699.6,840.43,699.6,847.1,699.6C853.78,699.6,860.46,699.6,867.13,699.6C873.81,699.6,880.49,699.6,887.16,699.6C893.84,699.6,900.51,699.6,907.19,699.6C913.87,699.6,920.54,699.6,927.22,699.6C933.9,699.6,940.57,699.6,947.25,699.6C953.93,699.6,960.6,699.6,967.28,699.6C973.96,699.6,980.63,699.6,987.31,699.6C993.99,699.6,1000.66,699.6,1007.34,699.6C1014.02,699.6,1020.69,699.6,1027.37,699.6C1034.05,699.6,1040.72,699.6,1047.4,699.6L1047.4,699.6L106,699.6Z" fill="url(#g2710_10)"/><path d="M106,414.6C112.68,457.35,119.35,500.1,126.03,500.1C132.71,500.1,139.38,443.1,146.06,443.1C152.74,443.1,159.41,443.1,166.09,443.1C172.77,443.1,179.44,443.1,186.12,443.1C192.8,443.1,199.47,500.1,206.15,500.1C212.83,500.1,219.5,471.6,226.18,471.6C232.86,471.6,239.53,528.6,246.21,528.6C252.89,528.6,259.56,471.6,266.24,471.6C272.91,471.6,279.59,557.1,286.27,557.1C292.94,557.1,299.62,500.1,306.3,500.1C312.97,500.1,319.65,557.1,326.33,557.1C333,557.1,339.68,500.1,346.36,500.1C353.03,500.1,359.71,566.6,366.39,585.6C373.06,604.6,379.74,614.1,386.42,614.1C393.09,614.1,399.77,614.1,406.45,614.1C413.12,614.1,419.8,552.35,426.48,528.6C433.15,504.85,439.83,471.6,446.51,471.6C453.18,471.6,459.86,528.6,466.54,528.6C473.21,528.6,479.89,443.1,486.57,443.1C493.24,443.1,499.92,481.1,506.6,500.1C513.27,519.1,519.95,557.1,526.63,557.1C533.3,557.1,539.98,528.6,546.66,528.6C553.33,528.6,560.01,557.1,566.69,557.1C573.36,557.1,580.04,538.1,586.71,528.6C593.39,519.1,600.07,500.1,606.74,500.1C613.42,500.1,620.1,500.1,626.77,500.1C633.45,500.1,640.13,386.1,646.8,386.1C653.48,386.1,660.16,443.1,666.83,471.6C673.51,500.1,680.19,557.1,686.86,557.1C693.54,557.1,700.22,500.1,706.89,500.1C713.57,500.1,720.25,542.85,726.92,557.1C733.6,571.35,740.28,585.6,746.95,585.6C753.63,585.6,760.31,528.6,766.98,528.6C773.66,528.6,780.34,528.6,787.01,528.6C793.69,528.6,800.37,443.1,807.04,443.1C813.72,443.1,820.4,699.6,827.07,699.6C833.75,699.6,840.43,699.6,847.1,699.6C853.78,699.6,860.46,699.6,867.13,699.6C873.81,699.6,880.49,699.6,887.16,699.6C893.84,699.6,900.51,699.6,907.19,699.6C913.87,699.6,920.54,699.6,927.22,699.6C933.9,699.6,940.57,699.6,947.25,699.6C953.93,699.6,960.6,699.6,967.28,699.6C973.96,699.6,980.63,699.6,987.31,699.6C993.99,699.6,1000.66,699.6,1007.34,699.6C1014.02,699.6,1020.69,699.6,1027.37,699.6C1034.05,699.6,1040.72,699.6,1047.4,699.6L1047.4,699.6L106,699.6Z" fill="url(#g2710_11)"/><path d="M106,500.1C112.68,490.6,119.35,481.1,126.03,471.6C132.71,462.1,139.38,443.1,146.06,443.1C152.74,443.1,159.41,528.6,166.09,528.6C172.77,528.6,179.44,500.1,186.12,500.1C192.8,500.1,199.47,500.1,206.15,500.1C212.83,500.1,219.5,557.1,226.18,557.1C232.86,557.1,239.53,538.1,246.21,528.6C252.89,519.1,259.56,500.1,266.24,500.1C272.91,500.1,279.59,614.1,286.27,614.1C292.94,614.1,299.62,443.1,306.3,443.1C312.97,443.1,319.65,471.6,326.33,500.1C333,528.6,339.68,614.1,346.36,614.1C353.03,614.1,359.71,500.1,366.39,500.1C373.06,500.1,379.74,557.1,386.42,557.1C393.09,557.1,399.77,471.6,406.45,471.6C413.12,471.6,419.8,557.1,426.48,557.1C433.15,557.1,439.83,500.1,446.51,500.1C453.18,500.1,459.86,557.1,466.54,557.1C473.21,557.1,479.89,528.6,486.57,528.6C493.24,528.6,499.92,585.6,506.6,585.6C513.27,585.6,519.95,500.1,526.63,500.1C533.3,500.1,539.98,557.1,546.66,557.1C553.33,557.1,560.01,557.1,566.69,557.1C573.36,557.1,580.04,500.1,586.71,500.1C593.39,500.1,600.07,557.1,606.74,557.1C613.42,557.1,620.1,528.6,626.77,528.6C633.45,528.6,640.13,547.6,646.8,557.1C653.48,566.6,660.16,585.6,666.83,585.6C673.51,585.6,680.19,585.6,686.86,585.6C693.54,585.6,700.22,566.6,706.89,557.1C713.57,547.6,720.25,528.6,726.92,528.6C733.6,528.6,740.28,585.6,746.95,585.6C753.63,585.6,760.31,490.6,766.98,471.6C773.66,452.6,780.34,452.6,787.01,443.1C793.69,433.6,800.37,414.6,807.04,414.6C813.72,414.6,820.4,699.6,827.07,699.6C833.75,699.6,840.43,699.6,847.1,699.6C853.78,699.6,860.46,699.6,867.13,699.6C873.81,699.6,880.49,699.6,887.16,699.6C893.84,699.6,900.51,699.6,907.19,699.6C913.87,699.6,920.54,699.6,927.22,699.6C933.9,699.6,940.57,699.6,947.25,699.6C953.93,699.6,960.6,699.6,967.28,699.6C973.96,699.6,980.63,699.6,987.31,699.6C993.99,699.6,1000.66,699.6,1007.34,699.6C1014.02,699.6,1020.69,699.6,1027.37,699.6C1034.05,699.6,1040.72,699.6,1047.4,699.6L1047.4,699.6L106,699.6Z" fill="url(#g2710_12)"/><path d="M106,528.6C112.68,528.6,119.35,528.6,126.03,528.6C132.71,528.6,139.38,509.6,146.06,500.1C152.74,490.6,159.41,471.6,166.09,471.6C172.77,471.6,179.44,557.1,186.12,557.1C192.8,557.1,199.47,557.1,206.15,557.1C212.83,557.1,219.5,585.6,226.18,585.6C232.86,585.6,239.53,585.6,246.21,585.6C252.89,585.6,259.56,500.1,266.24,500.1C272.91,500.1,279.59,519.1,286.27,528.6C292.94,538.1,299.62,557.1,306.3,557.1C312.97,557.1,319.65,471.6,326.33,471.6C333,471.6,339.68,557.1,346.36,585.6C353.03,614.1,359.71,642.6,366.39,642.6C373.06,642.6,379.74,557.1,386.42,557.1C393.09,557.1,399.77,585.6,406.45,585.6C413.12,585.6,419.8,528.6,426.48,528.6C433.15,528.6,439.83,585.6,446.51,585.6C453.18,585.6,459.86,500.1,466.54,500.1C473.21,500.1,479.89,542.85,486.57,557.1C493.24,571.35,499.92,585.6,506.6,585.6C513.27,585.6,519.95,576.1,526.63,557.1C533.3,538.1,539.98,490.6,546.66,471.6C553.33,452.6,560.01,452.6,566.69,443.1C573.36,433.6,580.04,414.6,586.71,414.6C593.39,414.6,600.07,614.1,606.74,614.1C613.42,614.1,620.1,471.6,626.77,471.6C633.45,471.6,640.13,557.1,646.8,557.1C653.48,557.1,660.16,538.1,666.83,528.6C673.51,519.1,680.19,500.1,686.86,500.1C693.54,500.1,700.22,528.6,706.89,528.6C713.57,528.6,720.25,414.6,726.92,414.6C733.6,414.6,740.28,509.6,746.95,528.6C753.63,547.6,760.31,557.1,766.98,557.1C773.66,557.1,780.34,557.1,787.01,557.1C793.69,557.1,800.37,471.6,807.04,471.6C813.72,471.6,820.4,699.6,827.07,699.6C833.75,699.6,840.43,699.6,847.1,699.6C853.78,699.6,860.46,699.6,867.13,699.6C873.81,699.6,880.49,699.6,887.16,699.6C893.84,699.6,900.51,699.6,907.19,699.6C913.87,699.6,920.54,699.6,927.22,699.6C933.9,699.6,940.57,699.6,947.25,699.6C953.93,699.6,960.6,699.6,967.28,699.6C973.96,699.6,980.63,699.6,987.31,699.6C993.99,699.6,1000.66,699.6,1007.34,699.6C1014.02,699.6,1020.69,699.6,1027.37,699.6C1034.05,699.6,1040.72,699.6,1047.4,699.6L1047.4,699.6L106,699.6Z" fill="url(#g2710_13)"/><path d="M106,471.6C112.68,471.6,119.35,471.6,126.03,471.6C132.71,471.6,139.38,471.6,146.06,471.6C152.74,471.6,159.41,471.6,166.09,471.6C172.77,471.6,179.44,485.85,186.12,500.1C192.8,514.35,199.47,557.1,206.15,557.1C212.83,557.1,219.5,500.1,226.18,500.1C232.86,500.1,239.53,519.1,246.21,528.6C252.89,538.1,259.56,557.1,266.24,557.1C272.91,557.1,279.59,557.1,286.27,557.1C292.94,557.1,299.62,495.35,306.3,471.6C312.97,447.85,319.65,414.6,326.33,414.6C333,414.6,339.68,585.6,346.36,585.6C353.03,585.6,359.71,585.6,366.39,585.6C373.06,585.6,379.74,528.6,386.42,528.6C393.09,528.6,399.77,557.1,406.45,557.1C413.12,557.1,419.8,500.1,426.48,500.1C433.15,500.1,439.83,557.1,446.51,557.1C453.18,557.1,459.86,471.6,466.54,471.6C473.21,471.6,479.89,509.6,486.57,528.6C493.24,547.6,499.92,585.6,506.6,585.6C513.27,585.6,519.95,500.1,526.63,500.1C533.3,500.1,539.98,519.1,546.66,528.6C553.33,538.1,560.01,557.1,566.69,557.1C573.36,557.1,580.04,443.1,586.71,443.1C593.39,443.1,600.07,557.1,606.74,557.1C613.42,557.1,620.1,471.6,626.77,471.6C633.45,471.6,640.13,528.6,646.8,528.6C653.48,528.6,660.16,471.6,666.83,471.6C673.51,471.6,680.19,514.35,686.86,528.6C693.54,542.85,700.22,557.1,706.89,557.1C713.57,557.1,720.25,557.1,726.92,557.1C733.6,557.1,740.28,500.1,746.95,500.1C753.63,500.1,760.31,557.1,766.98,557.1C773.66,557.1,780.34,471.6,787.01,471.6C793.69,471.6,800.37,481.1,807.04,500.1C813.72,519.1,820.4,699.6,827.07,699.6C833.75,699.6,840.43,699.6,847.1,699.6C853.78,699.6,860.46,699.6,867.13,699.6C873.81,699.6,880.49,699.6,887.16,699.6C893.84,699.6,900.51,699.6,907.19,699.6C913.87,699.6,920.54,699.6,927.22,699.6C933.9,699.6,940.57,699.6,947.25,699.6C953.93,699.6,960.6,699.6,967.28,699.6C973.96,699.6,980.63,699.6,987.31,699.6C993.99,699.6,1000.66,699.6,1007.34,699.6C1014.02,699.6,1020.69,699.6,1027.37,699.6C1034.05,699.6,1040.72,699.6,1047.4,699.6L1047.4,699.6L106,699.6Z" fill="url(#g2710_14)"/><path d="M106,357.6C112.68,471.6,119.35,585.6,126.03,585.6C132.71,585.6,139.38,509.6,146.06,471.6C152.74,433.6,159.41,357.6,166.09,357.6C172.77,357.6,179.44,490.6,186.12,528.6C192.8,566.6,199.47,585.6,206.15,585.6C212.83,585.6,219.5,538.1,226.18,500.1C232.86,462.1,239.53,357.6,246.21,357.6C252.89,357.6,259.56,414.6,266.24,414.6C272.91,414.6,279.59,386.1,286.27,386.1C292.94,386.1,299.62,538.1,306.3,557.1C312.97,576.1,319.65,585.6,326.33,585.6C333,585.6,339.68,471.6,346.36,471.6C353.03,471.6,359.71,614.1,366.39,614.1C373.06,614.1,379.74,462.1,386.42,443.1C393.09,424.1,399.77,414.6,406.45,414.6C413.12,414.6,419.8,414.6,426.48,414.6C433.15,414.6,439.83,557.1,446.51,557.1C453.18,557.1,459.86,414.6,466.54,414.6C473.21,414.6,479.89,528.6,486.57,528.6C493.24,528.6,499.92,528.6,506.6,528.6C513.27,528.6,519.95,495.35,526.63,471.6C533.3,447.85,539.98,386.1,546.66,386.1C553.33,386.1,560.01,395.6,566.69,414.6C573.36,433.6,580.04,500.1,586.71,500.1C593.39,500.1,600.07,414.6,606.74,414.6C613.42,414.6,620.1,414.6,626.77,414.6C633.45,414.6,640.13,614.1,646.8,614.1C653.48,614.1,660.16,376.6,666.83,357.6C673.51,338.6,680.19,329.1,686.86,329.1C693.54,329.1,700.22,428.85,706.89,471.6C713.57,514.35,720.25,585.6,726.92,585.6C733.6,585.6,740.28,386.1,746.95,386.1C753.63,386.1,760.31,500.1,766.98,500.1C773.66,500.1,780.34,443.1,787.01,414.6C793.69,386.1,800.37,329.1,807.04,329.1C813.72,329.1,820.4,699.6,827.07,699.6C833.75,699.6,840.43,699.6,847.1,699.6C853.78,699.6,860.46,699.6,867.13,699.6C873.81,699.6,880.49,699.6,887.16,699.6C893.84,699.6,900.51,699.6,907.19,699.6C913.87,699.6,920.54,699.6,927.22,699.6C933.9,699.6,940.57,699.6,947.25,699.6C953.93,699.6,960.6,699.6,967.28,699.6C973.96,699.6,980.63,699.6,987.31,699.6C993.99,699.6,1000.66,699.6,1007.34,699.6C1014.02,699.6,1020.69,699.6,1027.37,699.6C1034.05,699.6,1040.72,699.6,1047.4,699.6" stroke="#3f78e6" stroke-width="2.1" stroke-linejoin="round"/><path d="M106,471.6C112.68,500.1,119.35,528.6,126.03,528.6C132.71,528.6,139.38,466.85,146.06,443.1C152.74,419.35,159.41,386.1,166.09,386.1C172.77,386.1,179.44,471.6,186.12,500.1C192.8,528.6,199.47,557.1,206.15,557.1C212.83,557.1,219.5,471.6,226.18,471.6C232.86,471.6,239.53,557.1,246.21,557.1C252.89,557.1,259.56,443.1,266.24,443.1C272.91,443.1,279.59,443.1,286.27,443.1C292.94,443.1,299.62,528.6,306.3,528.6C312.97,528.6,319.65,471.6,326.33,471.6C333,471.6,339.68,514.35,346.36,528.6C353.03,542.85,359.71,547.6,366.39,557.1C373.06,566.6,379.74,585.6,386.42,585.6C393.09,585.6,399.77,557.1,406.45,557.1C413.12,557.1,419.8,557.1,426.48,557.1C433.15,557.1,439.83,414.6,446.51,414.6C453.18,414.6,459.86,428.85,466.54,443.1C473.21,457.35,479.89,500.1,486.57,500.1C493.24,500.1,499.92,462.1,506.6,443.1C513.27,424.1,519.95,386.1,526.63,386.1C533.3,386.1,539.98,471.6,546.66,471.6C553.33,471.6,560.01,329.1,566.69,329.1C573.36,329.1,580.04,614.1,586.71,614.1C593.39,614.1,600.07,557.1,606.74,557.1C613.42,557.1,620.1,642.6,626.77,642.6C633.45,642.6,640.13,642.6,646.8,642.6C653.48,642.6,660.16,604.6,666.83,585.6C673.51,566.6,680.19,547.6,686.86,528.6C693.54,509.6,700.22,471.6,706.89,471.6C713.57,471.6,720.25,471.6,726.92,471.6C733.6,471.6,740.28,414.6,746.95,414.6C753.63,414.6,760.31,471.6,766.98,471.6C773.66,471.6,780.34,443.1,787.01,443.1C793.69,443.1,800.37,514.35,807.04,557.1C813.72,599.85,820.4,699.6,827.07,699.6C833.75,699.6,840.43,699.6,847.1,699.6C853.78,699.6,860.46,699.6,867.13,699.6C873.81,699.6,880.49,699.6,887.16,699.6C893.84,699.6,900.51,699.6,907.19,699.6C913.87,699.6,920.54,699.6,927.22,699.6C933.9,699.6,940.57,699.6,947.25,699.6C953.93,699.6,960.6,699.6,967.28,699.6C973.96,699.6,980.63,699.6,987.31,699.6C993.99,699.6,1000.66,699.6,1007.34,699.6C1014.02,699.6,1020.69,699.6,1027.37,699.6C1034.05,699.6,1040.72,699.6,1047.4,699.6" stroke="#e8aa3a" stroke-width="2.1" stroke-linejoin="round"/><path d="M106,500.1C112.68,557.1,119.35,614.1,126.03,614.1C132.71,614.1,139.38,519.1,146.06,500.1C152.74,481.1,159.41,471.6,166.09,471.6C172.77,471.6,179.44,557.1,186.12,557.1C192.8,557.1,199.47,414.6,206.15,414.6C212.83,414.6,219.5,471.6,226.18,471.6C232.86,471.6,239.53,471.6,246.21,471.6C252.89,471.6,259.56,585.6,266.24,585.6C272.91,585.6,279.59,443.1,286.27,443.1C292.94,443.1,299.62,557.1,306.3,557.1C312.97,557.1,319.65,528.6,326.33,528.6C333,528.6,339.68,528.6,346.36,528.6C353.03,528.6,359.71,476.35,366.39,443.1C373.06,409.85,379.74,329.1,386.42,329.1C393.09,329.1,399.77,500.1,406.45,500.1C413.12,500.1,419.8,414.6,426.48,414.6C433.15,414.6,439.83,471.6,446.51,471.6C453.18,471.6,459.86,300.6,466.54,300.6C473.21,300.6,479.89,509.6,486.57,528.6C493.24,547.6,499.92,557.1,506.6,557.1C513.27,557.1,519.95,557.1,526.63,557.1C533.3,557.1,539.98,614.1,546.66,614.1C553.33,614.1,560.01,523.85,566.69,471.6C573.36,419.35,580.04,300.6,586.71,300.6C593.39,300.6,600.07,462.1,606.74,500.1C613.42,538.1,620.1,557.1,626.77,557.1C633.45,557.1,640.13,471.6,646.8,471.6C653.48,471.6,660.16,614.1,666.83,614.1C673.51,614.1,680.19,547.6,686.86,528.6C693.54,509.6,700.22,500.1,706.89,500.1C713.57,500.1,720.25,500.1,726.92,500.1C733.6,500.1,740.28,500.1,746.95,500.1C753.63,500.1,760.31,557.1,766.98,557.1C773.66,557.1,780.34,272.1,787.01,272.1C793.69,272.1,800.37,343.35,807.04,414.6C813.72,485.85,820.4,699.6,827.07,699.6C833.75,699.6,840.43,699.6,847.1,699.6C853.78,699.6,860.46,699.6,867.13,699.6C873.81,699.6,880.49,699.6,887.16,699.6C893.84,699.6,900.51,699.6,907.19,699.6C913.87,699.6,920.54,699.6,927.22,699.6C933.9,699.6,940.57,699.6,947.25,699.6C953.93,699.6,960.6,699.6,967.28,699.6C973.96,699.6,980.63,699.6,987.31,699.6C993.99,699.6,1000.66,699.6,1007.34,699.6C1014.02,699.6,1020.69,699.6,1027.37,699.6C1034.05,699.6,1040.72,699.6,1047.4,699.6" stroke="#f3705a" stroke-width="2.1" stroke-linejoin="round"/><path d="M106,329.1C112.68,395.6,119.35,462.1,126.03,500.1C132.71,538.1,139.38,557.1,146.06,557.1C152.74,557.1,159.41,538.1,166.09,528.6C172.77,519.1,179.44,500.1,186.12,500.1C192.8,500.1,199.47,614.1,206.15,614.1C212.83,614.1,219.5,272.1,226.18,272.1C232.86,272.1,239.53,400.35,246.21,443.1C252.89,485.85,259.56,528.6,266.24,528.6C272.91,528.6,279.59,500.1,286.27,500.1C292.94,500.1,299.62,500.1,306.3,500.1C312.97,500.1,319.65,519.1,326.33,528.6C333,538.1,339.68,557.1,346.36,557.1C353.03,557.1,359.71,386.1,366.39,386.1C373.06,386.1,379.74,471.6,386.42,471.6C393.09,471.6,399.77,405.1,406.45,386.1C413.12,367.1,419.8,357.6,426.48,357.6C433.15,357.6,439.83,557.1,446.51,557.1C453.18,557.1,459.86,471.6,466.54,471.6C473.21,471.6,479.89,642.6,486.57,642.6C493.24,642.6,499.92,528.6,506.6,528.6C513.27,528.6,519.95,542.85,526.63,557.1C533.3,571.35,539.98,614.1,546.66,614.1C553.33,614.1,560.01,357.6,566.69,357.6C573.36,357.6,580.04,357.6,586.71,357.6C593.39,357.6,600.07,386.1,606.74,414.6C613.42,443.1,620.1,528.6,626.77,528.6C633.45,528.6,640.13,528.6,646.8,528.6C653.48,528.6,660.16,528.6,666.83,528.6C673.51,528.6,680.19,528.6,686.86,528.6C693.54,528.6,700.22,557.1,706.89,557.1C713.57,557.1,720.25,500.1,726.92,500.1C733.6,500.1,740.28,557.1,746.95,557.1C753.63,557.1,760.31,500.1,766.98,500.1C773.66,500.1,780.34,614.1,787.01,614.1C793.69,614.1,800.37,528.6,807.04,528.6C813.72,528.6,820.4,699.6,827.07,699.6C833.75,699.6,840.43,699.6,847.1,699.6C853.78,699.6,860.46,699.6,867.13,699.6C873.81,699.6,880.49,699.6,887.16,699.6C893.84,699.6,900.51,699.6,907.19,699.6C913.87,699.6,920.54,699.6,927.22,699.6C933.9,699.6,940.57,699.6,947.25,699.6C953.93,699.6,960.6,699.6,967.28,699.6C973.96,699.6,980.63,699.6,987.31,699.6C993.99,699.6,1000.66,699.6,1007.34,699.6C1014.02,699.6,1020.69,699.6,1027.37,699.6C1034.05,699.6,1040.72,699.6,1047.4,699.6" stroke="#70baa8" stroke-width="2.1" stroke-linejoin="round"/><path d="M106,443.1C112.68,500.1,119.35,557.1,126.03,557.1C132.71,557.1,139.38,500.1,146.06,500.1C152.74,500.1,159.41,500.1,166.09,500.1C172.77,500.1,179.44,557.1,186.12,557.1C192.8,557.1,199.47,528.6,206.15,528.6C212.83,528.6,219.5,614.1,226.18,614.1C232.86,614.1,239.53,386.1,246.21,386.1C252.89,386.1,259.56,614.1,266.24,614.1C272.91,614.1,279.59,357.6,286.27,357.6C292.94,357.6,299.62,585.6,306.3,585.6C312.97,585.6,319.65,329.1,326.33,329.1C333,329.1,339.68,614.1,346.36,614.1C353.03,614.1,359.71,614.1,366.39,614.1C373.06,614.1,379.74,614.1,386.42,614.1C393.09,614.1,399.77,129.6,406.45,129.6C413.12,129.6,419.8,414.6,426.48,471.6C433.15,528.6,439.83,557.1,446.51,557.1C453.18,557.1,459.86,547.6,466.54,528.6C473.21,509.6,479.89,443.1,486.57,443.1C493.24,443.1,499.92,523.85,506.6,557.1C513.27,590.35,519.95,642.6,526.63,642.6C533.3,642.6,539.98,443.1,546.66,443.1C553.33,443.1,560.01,500.1,566.69,500.1C573.36,500.1,580.04,386.1,586.71,386.1C593.39,386.1,600.07,466.85,606.74,500.1C613.42,533.35,620.1,585.6,626.77,585.6C633.45,585.6,640.13,414.6,646.8,414.6C653.48,414.6,660.16,500.1,666.83,500.1C673.51,500.1,680.19,466.85,686.86,443.1C693.54,419.35,700.22,357.6,706.89,357.6C713.57,357.6,720.25,443.1,726.92,471.6C733.6,500.1,740.28,528.6,746.95,528.6C753.63,528.6,760.31,528.6,766.98,528.6C773.66,528.6,780.34,557.1,787.01,557.1C793.69,557.1,800.37,443.1,807.04,443.1C813.72,443.1,820.4,699.6,827.07,699.6C833.75,699.6,840.43,699.6,847.1,699.6C853.78,699.6,860.46,699.6,867.13,699.6C873.81,699.6,880.49,699.6,887.16,699.6C893.84,699.6,900.51,699.6,907.19,699.6C913.87,699.6,920.54,699.6,927.22,699.6C933.9,699.6,940.57,699.6,947.25,699.6C953.93,699.6,960.6,699.6,967.28,699.6C973.96,699.6,980.63,699.6,987.31,699.6C993.99,699.6,1000.66,699.6,1007.34,699.6C1014.02,699.6,1020.69,699.6,1027.37,699.6C1034.05,699.6,1040.72,699.6,1047.4,699.6" stroke="#4b9b52" stroke-width="2.1" stroke-linejoin="round"/><path d="M106,414.6C112.68,435.98,119.35,457.35,126.03,471.6C132.71,485.85,139.38,500.1,146.06,500.1C152.74,500.1,159.41,471.6,166.09,471.6C172.77,471.6,179.44,528.6,186.12,528.6C192.8,528.6,199.47,357.6,206.15,357.6C212.83,357.6,219.5,443.1,226.18,443.1C232.86,443.1,239.53,443.1,246.21,443.1C252.89,443.1,259.56,614.1,266.24,614.1C272.91,614.1,279.59,514.35,286.27,471.6C292.94,428.85,299.62,357.6,306.3,357.6C312.97,357.6,319.65,557.1,326.33,557.1C333,557.1,339.68,414.6,346.36,414.6C353.03,414.6,359.71,671.1,366.39,671.1C373.06,671.1,379.74,471.6,386.42,471.6C393.09,471.6,399.77,557.1,406.45,557.1C413.12,557.1,419.8,557.1,426.48,557.1C433.15,557.1,439.83,614.1,446.51,614.1C453.18,614.1,459.86,471.6,466.54,471.6C473.21,471.6,479.89,528.6,486.57,528.6C493.24,528.6,499.92,471.6,506.6,471.6C513.27,471.6,519.95,585.6,526.63,585.6C533.3,585.6,539.98,557.1,546.66,557.1C553.33,557.1,560.01,585.6,566.69,585.6C573.36,585.6,580.04,585.6,586.71,585.6C593.39,585.6,600.07,528.6,606.74,500.1C613.42,471.6,620.1,414.6,626.77,414.6C633.45,414.6,640.13,471.6,646.8,471.6C653.48,471.6,660.16,386.1,666.83,386.1C673.51,386.1,680.19,528.6,686.86,528.6C693.54,528.6,700.22,528.6,706.89,528.6C713.57,528.6,720.25,514.35,726.92,500.1C733.6,485.85,740.28,443.1,746.95,443.1C753.63,443.1,760.31,457.35,766.98,471.6C773.66,485.85,780.34,528.6,787.01,528.6C793.69,528.6,800.37,500.1,807.04,500.1C813.72,500.1,820.4,699.6,827.07,699.6C833.75,699.6,840.43,699.6,847.1,699.6C853.78,699.6,860.46,699.6,867.13,699.6C873.81,699.6,880.49,699.6,887.16,699.6C893.84,699.6,900.51,699.6,907.19,699.6C913.87,699.6,920.54,699.6,927.22,699.6C933.9,699.6,940.57,699.6,947.25,699.6C953.93,699.6,960.6,699.6,967.28,699.6C973.96,699.6,980.63,699.6,987.31,699.6C993.99,699.6,1000.66,699.6,1007.34,699.6C1014.02,699.6,1020.69,699.6,1027.37,699.6C1034.05,699.6,1040.72,699.6,1047.4,699.6" stroke="#f587af" stroke-width="2.1" stroke-linejoin="round"/><path d="M106,528.6C112.68,542.85,119.35,557.1,126.03,557.1C132.71,557.1,139.38,528.6,146.06,528.6C152.74,528.6,159.41,585.6,166.09,585.6C172.77,585.6,179.44,547.6,186.12,528.6C192.8,509.6,199.47,495.35,206.15,471.6C212.83,447.85,219.5,386.1,226.18,386.1C232.86,386.1,239.53,443.1,246.21,443.1C252.89,443.1,259.56,386.1,266.24,386.1C272.91,386.1,279.59,585.6,286.27,585.6C292.94,585.6,299.62,519.1,306.3,500.1C312.97,481.1,319.65,471.6,326.33,471.6C333,471.6,339.68,528.6,346.36,528.6C353.03,528.6,359.71,528.6,366.39,528.6C373.06,528.6,379.74,519.1,386.42,500.1C393.09,481.1,399.77,414.6,406.45,414.6C413.12,414.6,419.8,452.6,426.48,471.6C433.15,490.6,439.83,528.6,446.51,528.6C453.18,528.6,459.86,443.1,466.54,443.1C473.21,443.1,479.89,462.1,486.57,471.6C493.24,481.1,499.92,490.6,506.6,500.1C513.27,509.6,519.95,528.6,526.63,528.6C533.3,528.6,539.98,509.6,546.66,500.1C553.33,490.6,560.01,471.6,566.69,471.6C573.36,471.6,580.04,528.6,586.71,528.6C593.39,528.6,600.07,528.6,606.74,528.6C613.42,528.6,620.1,614.1,626.77,614.1C633.45,614.1,640.13,528.6,646.8,500.1C653.48,471.6,660.16,443.1,666.83,443.1C673.51,443.1,680.19,471.6,686.86,471.6C693.54,471.6,700.22,471.6,706.89,471.6C713.57,471.6,720.25,528.6,726.92,528.6C733.6,528.6,740.28,471.6,746.95,471.6C753.63,471.6,760.31,485.85,766.98,500.1C773.66,514.35,780.34,557.1,787.01,557.1C793.69,557.1,800.37,386.1,807.04,386.1C813.72,386.1,820.4,699.6,827.07,699.6C833.75,699.6,840.43,699.6,847.1,699.6C853.78,699.6,860.46,699.6,867.13,699.6C873.81,699.6,880.49,699.6,887.16,699.6C893.84,699.6,900.51,699.6,907.19,699.6C913.87,699.6,920.54,699.6,927.22,699.6C933.9,699.6,940.57,699.6,947.25,699.6C953.93,699.6,960.6,699.6,967.28,699.6C973.96,699.6,980.63,699.6,987.31,699.6C993.99,699.6,1000.66,699.6,1007.34,699.6C1014.02,699.6,1020.69,699.6,1027.37,699.6C1034.05,699.6,1040.72,699.6,1047.4,699.6" stroke="#a66bf0" stroke-width="2.1" stroke-linejoin="round"/><path d="M106,528.6C112.68,528.6,119.35,528.6,126.03,528.6C132.71,528.6,139.38,542.85,146.06,557.1C152.74,571.35,159.41,614.1,166.09,614.1C172.77,614.1,179.44,557.1,186.12,528.6C192.8,500.1,199.47,443.1,206.15,443.1C212.83,443.1,219.5,642.6,226.18,642.6C232.86,642.6,239.53,576.1,246.21,557.1C252.89,538.1,259.56,547.6,266.24,528.6C272.91,509.6,279.59,386.1,286.27,386.1C292.94,386.1,299.62,471.6,306.3,471.6C312.97,471.6,319.65,386.1,326.33,386.1C333,386.1,339.68,500.1,346.36,500.1C353.03,500.1,359.71,443.1,366.39,443.1C373.06,443.1,379.74,585.6,386.42,585.6C393.09,585.6,399.77,542.85,406.45,528.6C413.12,514.35,419.8,514.35,426.48,500.1C433.15,485.85,439.83,443.1,446.51,443.1C453.18,443.1,459.86,471.6,466.54,471.6C473.21,471.6,479.89,376.6,486.57,357.6C493.24,338.6,499.92,329.1,506.6,329.1C513.27,329.1,519.95,614.1,526.63,614.1C533.3,614.1,539.98,386.1,546.66,386.1C553.33,386.1,560.01,490.6,566.69,528.6C573.36,566.6,580.04,614.1,586.71,614.1C593.39,614.1,600.07,490.6,606.74,471.6C613.42,452.6,620.1,443.1,626.77,443.1C633.45,443.1,640.13,500.1,646.8,500.1C653.48,500.1,660.16,500.1,666.83,500.1C673.51,500.1,680.19,557.1,686.86,557.1C693.54,557.1,700.22,557.1,706.89,557.1C713.57,557.1,720.25,443.1,726.92,443.1C733.6,443.1,740.28,642.6,746.95,642.6C753.63,642.6,760.31,542.85,766.98,500.1C773.66,457.35,780.34,386.1,787.01,386.1C793.69,386.1,800.37,395.6,807.04,414.6C813.72,433.6,820.4,699.6,827.07,699.6C833.75,699.6,840.43,699.6,847.1,699.6C853.78,699.6,860.46,699.6,867.13,699.6C873.81,699.6,880.49,699.6,887.16,699.6C893.84,699.6,900.51,699.6,907.19,699.6C913.87,699.6,920.54,699.6,927.22,699.6C933.9,699.6,940.57,699.6,947.25,699.6C953.93,699.6,960.6,699.6,967.28,699.6C973.96,699.6,980.63,699.6,987.31,699.6C993.99,699.6,1000.66,699.6,1007.34,699.6C1014.02,699.6,1020.69,699.6,1027.37,699.6C1034.05,699.6,1040.72,699.6,1047.4,699.6" stroke="#95b8f4" stroke-width="2.1" stroke-linejoin="round"/><path d="M106,500.1C112.68,471.6,119.35,443.1,126.03,443.1C132.71,443.1,139.38,528.6,146.06,528.6C152.74,528.6,159.41,528.6,166.09,528.6C172.77,528.6,179.44,528.6,186.12,528.6C192.8,528.6,199.47,585.6,206.15,585.6C212.83,585.6,219.5,585.6,226.18,585.6C232.86,585.6,239.53,642.6,246.21,642.6C252.89,642.6,259.56,528.6,266.24,528.6C272.91,528.6,279.59,585.6,286.27,585.6C292.94,585.6,299.62,471.6,306.3,471.6C312.97,471.6,319.65,614.1,326.33,614.1C333,614.1,339.68,471.6,346.36,471.6C353.03,471.6,359.71,500.1,366.39,500.1C373.06,500.1,379.74,500.1,386.42,500.1C393.09,500.1,399.77,614.1,406.45,614.1C413.12,614.1,419.8,528.6,426.48,528.6C433.15,528.6,439.83,585.6,446.51,585.6C453.18,585.6,459.86,571.35,466.54,557.1C473.21,542.85,479.89,500.1,486.57,500.1C493.24,500.1,499.92,528.6,506.6,528.6C513.27,528.6,519.95,414.6,526.63,414.6C533.3,414.6,539.98,528.6,546.66,528.6C553.33,528.6,560.01,443.1,566.69,443.1C573.36,443.1,580.04,476.35,586.71,500.1C593.39,523.85,600.07,585.6,606.74,585.6C613.42,585.6,620.1,557.1,626.77,557.1C633.45,557.1,640.13,557.1,646.8,557.1C653.48,557.1,660.16,357.6,666.83,357.6C673.51,357.6,680.19,367.1,686.86,386.1C693.54,405.1,700.22,642.6,706.89,642.6C713.57,642.6,720.25,557.1,726.92,528.6C733.6,500.1,740.28,500.1,746.95,471.6C753.63,443.1,760.31,357.6,766.98,357.6C773.66,357.6,780.34,671.1,787.01,671.1C793.69,671.1,800.37,557.1,807.04,557.1C813.72,557.1,820.4,699.6,827.07,699.6C833.75,699.6,840.43,699.6,847.1,699.6C853.78,699.6,860.46,699.6,867.13,699.6C873.81,699.6,880.49,699.6,887.16,699.6C893.84,699.6,900.51,699.6,907.19,699.6C913.87,699.6,920.54,699.6,927.22,699.6C933.9,699.6,940.57,699.6,947.25,699.6C953.93,699.6,960.6,699.6,967.28,699.6C973.96,699.6,980.63,699.6,987.31,699.6C993.99,699.6,1000.66,699.6,1007.34,699.6C1014.02,699.6,1020.69,699.6,1027.37,699.6C1034.05,699.6,1040.72,699.6,1047.4,699.6" stroke="#9c6b4e" stroke-width="2.1" stroke-linejoin="round"/><path d="M106,500.1C112.68,514.35,119.35,528.6,126.03,528.6C132.71,528.6,139.38,500.1,146.06,500.1C152.74,500.1,159.41,500.1,166.09,500.1C172.77,500.1,179.44,414.6,186.12,414.6C192.8,414.6,199.47,528.6,206.15,528.6C212.83,528.6,219.5,329.1,226.18,329.1C232.86,329.1,239.53,500.1,246.21,500.1C252.89,500.1,259.56,414.6,266.24,414.6C272.91,414.6,279.59,452.6,286.27,471.6C292.94,490.6,299.62,528.6,306.3,528.6C312.97,528.6,319.65,500.1,326.33,500.1C333,500.1,339.68,585.6,346.36,585.6C353.03,585.6,359.71,357.6,366.39,357.6C373.06,357.6,379.74,557.1,386.42,557.1C393.09,557.1,399.77,471.6,406.45,471.6C413.12,471.6,419.8,585.6,426.48,585.6C433.15,585.6,439.83,547.6,446.51,528.6C453.18,509.6,459.86,471.6,466.54,471.6C473.21,471.6,479.89,471.6,486.57,471.6C493.24,471.6,499.92,471.6,506.6,471.6C513.27,471.6,519.95,386.1,526.63,386.1C533.3,386.1,539.98,500.1,546.66,500.1C553.33,500.1,560.01,500.1,566.69,500.1C573.36,500.1,580.04,471.6,586.71,471.6C593.39,471.6,600.07,528.6,606.74,528.6C613.42,528.6,620.1,485.85,626.77,443.1C633.45,400.35,640.13,272.1,646.8,272.1C653.48,272.1,660.16,614.1,666.83,614.1C673.51,614.1,680.19,500.1,686.86,500.1C693.54,500.1,700.22,528.6,706.89,528.6C713.57,528.6,720.25,414.6,726.92,414.6C733.6,414.6,740.28,614.1,746.95,614.1C753.63,614.1,760.31,443.1,766.98,443.1C773.66,443.1,780.34,585.6,787.01,585.6C793.69,585.6,800.37,585.6,807.04,585.6C813.72,585.6,820.4,699.6,827.07,699.6C833.75,699.6,840.43,699.6,847.1,699.6C853.78,699.6,860.46,699.6,867.13,699.6C873.81,699.6,880.49,699.6,887.16,699.6C893.84,699.6,900.51,699.6,907.19,699.6C913.87,699.6,920.54,699.6,927.22,699.6C933.9,699.6,940.57,699.6,947.25,699.6C953.93,699.6,960.6,699.6,967.28,699.6C973.96,699.6,980.63,699.6,987.31,699.6C993.99,699.6,1000.66,699.6,1007.34,699.6C1014.02,699.6,1020.69,699.6,1027.37,699.6C1034.05,699.6,1040.72,699.6,1047.4,699.6" stroke="#9498a0" stroke-width="2.1" stroke-linejoin="round"/><path d="M106,386.1C112.68,433.6,119.35,481.1,126.03,500.1C132.71,519.1,139.38,514.35,146.06,528.6C152.74,542.85,159.41,585.6,166.09,585.6C172.77,585.6,179.44,443.1,186.12,443.1C192.8,443.1,199.47,500.1,206.15,500.1C212.83,500.1,219.5,471.6,226.18,471.6C232.86,471.6,239.53,514.35,246.21,528.6C252.89,542.85,259.56,557.1,266.24,557.1C272.91,557.1,279.59,542.85,286.27,528.6C292.94,514.35,299.62,471.6,306.3,471.6C312.97,471.6,319.65,557.1,326.33,557.1C333,557.1,339.68,500.1,346.36,500.1C353.03,500.1,359.71,585.6,366.39,585.6C373.06,585.6,379.74,566.6,386.42,557.1C393.09,547.6,399.77,542.85,406.45,528.6C413.12,514.35,419.8,471.6,426.48,471.6C433.15,471.6,439.83,471.6,446.51,471.6C453.18,471.6,459.86,557.1,466.54,557.1C473.21,557.1,479.89,471.6,486.57,471.6C493.24,471.6,499.92,528.6,506.6,528.6C513.27,528.6,519.95,443.1,526.63,443.1C533.3,443.1,539.98,585.6,546.66,585.6C553.33,585.6,560.01,547.6,566.69,528.6C573.36,509.6,580.04,471.6,586.71,471.6C593.39,471.6,600.07,557.1,606.74,557.1C613.42,557.1,620.1,500.1,626.77,500.1C633.45,500.1,640.13,528.6,646.8,528.6C653.48,528.6,660.16,485.85,666.83,471.6C673.51,457.35,680.19,457.35,686.86,443.1C693.54,428.85,700.22,386.1,706.89,386.1C713.57,386.1,720.25,528.6,726.92,528.6C733.6,528.6,740.28,471.6,746.95,471.6C753.63,471.6,760.31,471.6,766.98,471.6C773.66,471.6,780.34,471.6,787.01,471.6C793.69,471.6,800.37,481.1,807.04,500.1C813.72,519.1,820.4,699.6,827.07,699.6C833.75,699.6,840.43,699.6,847.1,699.6C853.78,699.6,860.46,699.6,867.13,699.6C873.81,699.6,880.49,699.6,887.16,699.6C893.84,699.6,900.51,699.6,907.19,699.6C913.87,699.6,920.54,699.6,927.22,699.6C933.9,699.6,940.57,699.6,947.25,699.6C953.93,699.6,960.6,699.6,967.28,699.6C973.96,699.6,980.63,699.6,987.31,699.6C993.99,699.6,1000.66,699.6,1007.34,699.6C1014.02,699.6,1020.69,699.6,1027.37,699.6C1034.05,699.6,1040.72,699.6,1047.4,699.6" stroke="#3f78e6" stroke-width="2.1" stroke-linejoin="round"/><path d="M106,414.6C112.68,457.35,119.35,500.1,126.03,500.1C132.71,500.1,139.38,443.1,146.06,443.1C152.74,443.1,159.41,443.1,166.09,443.1C172.77,443.1,179.44,443.1,186.12,443.1C192.8,443.1,199.47,500.1,206.15,500.1C212.83,500.1,219.5,471.6,226.18,471.6C232.86,471.6,239.53,528.6,246.21,528.6C252.89,528.6,259.56,471.6,266.24,471.6C272.91,471.6,279.59,557.1,286.27,557.1C292.94,557.1,299.62,500.1,306.3,500.1C312.97,500.1,319.65,557.1,326.33,557.1C333,557.1,339.68,500.1,346.36,500.1C353.03,500.1,359.71,566.6,366.39,585.6C373.06,604.6,379.74,614.1,386.42,614.1C393.09,614.1,399.77,614.1,406.45,614.1C413.12,614.1,419.8,552.35,426.48,528.6C433.15,504.85,439.83,471.6,446.51,471.6C453.18,471.6,459.86,528.6,466.54,528.6C473.21,528.6,479.89,443.1,486.57,443.1C493.24,443.1,499.92,481.1,506.6,500.1C513.27,519.1,519.95,557.1,526.63,557.1C533.3,557.1,539.98,528.6,546.66,528.6C553.33,528.6,560.01,557.1,566.69,557.1C573.36,557.1,580.04,538.1,586.71,528.6C593.39,519.1,600.07,500.1,606.74,500.1C613.42,500.1,620.1,500.1,626.77,500.1C633.45,500.1,640.13,386.1,646.8,386.1C653.48,386.1,660.16,443.1,666.83,471.6C673.51,500.1,680.19,557.1,686.86,557.1C693.54,557.1,700.22,500.1,706.89,500.1C713.57,500.1,720.25,542.85,726.92,557.1C733.6,571.35,740.28,585.6,746.95,585.6C753.63,585.6,760.31,528.6,766.98,528.6C773.66,528.6,780.34,528.6,787.01,528.6C793.69,528.6,800.37,443.1,807.04,443.1C813.72,443.1,820.4,699.6,827.07,699.6C833.75,699.6,840.43,699.6,847.1,699.6C853.78,699.6,860.46,699.6,867.13,699.6C873.81,699.6,880.49,699.6,887.16,699.6C893.84,699.6,900.51,699.6,907.19,699.6C913.87,699.6,920.54,699.6,927.22,699.6C933.9,699.6,940.57,699.6,947.25,699.6C953.93,699.6,960.6,699.6,967.28,699.6C973.96,699.6,980.63,699.6,987.31,699.6C993.99,699.6,1000.66,699.6,1007.34,699.6C1014.02,699.6,1020.69,699.6,1027.37,699.6C1034.05,699.6,1040.72,699.6,1047.4,699.6" stroke="#e8aa3a" stroke-width="2.1" stroke-linejoin="round"/><path d="M106,500.1C112.68,490.6,119.35,481.1,126.03,471.6C132.71,462.1,139.38,443.1,146.06,443.1C152.74,443.1,159.41,528.6,166.09,528.6C172.77,528.6,179.44,500.1,186.12,500.1C192.8,500.1,199.47,500.1,206.15,500.1C212.83,500.1,219.5,557.1,226.18,557.1C232.86,557.1,239.53,538.1,246.21,528.6C252.89,519.1,259.56,500.1,266.24,500.1C272.91,500.1,279.59,614.1,286.27,614.1C292.94,614.1,299.62,443.1,306.3,443.1C312.97,443.1,319.65,471.6,326.33,500.1C333,528.6,339.68,614.1,346.36,614.1C353.03,614.1,359.71,500.1,366.39,500.1C373.06,500.1,379.74,557.1,386.42,557.1C393.09,557.1,399.77,471.6,406.45,471.6C413.12,471.6,419.8,557.1,426.48,557.1C433.15,557.1,439.83,500.1,446.51,500.1C453.18,500.1,459.86,557.1,466.54,557.1C473.21,557.1,479.89,528.6,486.57,528.6C493.24,528.6,499.92,585.6,506.6,585.6C513.27,585.6,519.95,500.1,526.63,500.1C533.3,500.1,539.98,557.1,546.66,557.1C553.33,557.1,560.01,557.1,566.69,557.1C573.36,557.1,580.04,500.1,586.71,500.1C593.39,500.1,600.07,557.1,606.74,557.1C613.42,557.1,620.1,528.6,626.77,528.6C633.45,528.6,640.13,547.6,646.8,557.1C653.48,566.6,660.16,585.6,666.83,585.6C673.51,585.6,680.19,585.6,686.86,585.6C693.54,585.6,700.22,566.6,706.89,557.1C713.57,547.6,720.25,528.6,726.92,528.6C733.6,528.6,740.28,585.6,746.95,585.6C753.63,585.6,760.31,490.6,766.98,471.6C773.66,452.6,780.34,452.6,787.01,443.1C793.69,433.6,800.37,414.6,807.04,414.6C813.72,414.6,820.4,699.6,827.07,699.6C833.75,699.6,840.43,699.6,847.1,699.6C853.78,699.6,860.46,699.6,867.13,699.6C873.81,699.6,880.49,699.6,887.16,699.6C893.84,699.6,900.51,699.6,907.19,699.6C913.87,699.6,920.54,699.6,927.22,699.6C933.9,699.6,940.57,699.6,947.25,699.6C953.93,699.6,960.6,699.6,967.28,699.6C973.96,699.6,980.63,699.6,987.31,699.6C993.99,699.6,1000.66,699.6,1007.34,699.6C1014.02,699.6,1020.69,699.6,1027.37,699.6C1034.05,699.6,1040.72,699.6,1047.4,699.6" stroke="#f3705a" stroke-width="2.1" stroke-linejoin="round"/><path d="M106,528.6C112.68,528.6,119.35,528.6,126.03,528.6C132.71,528.6,139.38,509.6,146.06,500.1C152.74,490.6,159.41,471.6,166.09,471.6C172.77,471.6,179.44,557.1,186.12,557.1C192.8,557.1,199.47,557.1,206.15,557.1C212.83,557.1,219.5,585.6,226.18,585.6C232.86,585.6,239.53,585.6,246.21,585.6C252.89,585.6,259.56,500.1,266.24,500.1C272.91,500.1,279.59,519.1,286.27,528.6C292.94,538.1,299.62,557.1,306.3,557.1C312.97,557.1,319.65,471.6,326.33,471.6C333,471.6,339.68,557.1,346.36,585.6C353.03,614.1,359.71,642.6,366.39,642.6C373.06,642.6,379.74,557.1,386.42,557.1C393.09,557.1,399.77,585.6,406.45,585.6C413.12,585.6,419.8,528.6,426.48,528.6C433.15,528.6,439.83,585.6,446.51,585.6C453.18,585.6,459.86,500.1,466.54,500.1C473.21,500.1,479.89,542.85,486.57,557.1C493.24,571.35,499.92,585.6,506.6,585.6C513.27,585.6,519.95,576.1,526.63,557.1C533.3,538.1,539.98,490.6,546.66,471.6C553.33,452.6,560.01,452.6,566.69,443.1C573.36,433.6,580.04,414.6,586.71,414.6C593.39,414.6,600.07,614.1,606.74,614.1C613.42,614.1,620.1,471.6,626.77,471.6C633.45,471.6,640.13,557.1,646.8,557.1C653.48,557.1,660.16,538.1,666.83,528.6C673.51,519.1,680.19,500.1,686.86,500.1C693.54,500.1,700.22,528.6,706.89,528.6C713.57,528.6,720.25,414.6,726.92,414.6C733.6,414.6,740.28,509.6,746.95,528.6C753.63,547.6,760.31,557.1,766.98,557.1C773.66,557.1,780.34,557.1,787.01,557.1C793.69,557.1,800.37,471.6,807.04,471.6C813.72,471.6,820.4,699.6,827.07,699.6C833.75,699.6,840.43,699.6,847.1,699.6C853.78,699.6,860.46,699.6,867.13,699.6C873.81,699.6,880.49,699.6,887.16,699.6C893.84,699.6,900.51,699.6,907.19,699.6C913.87,699.6,920.54,699.6,927.22,699.6C933.9,699.6,940.57,699.6,947.25,699.6C953.93,699.6,960.6,699.6,967.28,699.6C973.96,699.6,980.63,699.6,987.31,699.6C993.99,699.6,1000.66,699.6,1007.34,699.6C1014.02,699.6,1020.69,699.6,1027.37,699.6C1034.05,699.6,1040.72,699.6,1047.4,699.6" stroke="#70baa8" stroke-width="2.1" stroke-linejoin="round"/><path d="M106,471.6C112.68,471.6,119.35,471.6,126.03,471.6C132.71,471.6,139.38,471.6,146.06,471.6C152.74,471.6,159.41,471.6,166.09,471.6C172.77,471.6,179.44,485.85,186.12,500.1C192.8,514.35,199.47,557.1,206.15,557.1C212.83,557.1,219.5,500.1,226.18,500.1C232.86,500.1,239.53,519.1,246.21,528.6C252.89,538.1,259.56,557.1,266.24,557.1C272.91,557.1,279.59,557.1,286.27,557.1C292.94,557.1,299.62,495.35,306.3,471.6C312.97,447.85,319.65,414.6,326.33,414.6C333,414.6,339.68,585.6,346.36,585.6C353.03,585.6,359.71,585.6,366.39,585.6C373.06,585.6,379.74,528.6,386.42,528.6C393.09,528.6,399.77,557.1,406.45,557.1C413.12,557.1,419.8,500.1,426.48,500.1C433.15,500.1,439.83,557.1,446.51,557.1C453.18,557.1,459.86,471.6,466.54,471.6C473.21,471.6,479.89,509.6,486.57,528.6C493.24,547.6,499.92,585.6,506.6,585.6C513.27,585.6,519.95,500.1,526.63,500.1C533.3,500.1,539.98,519.1,546.66,528.6C553.33,538.1,560.01,557.1,566.69,557.1C573.36,557.1,580.04,443.1,586.71,443.1C593.39,443.1,600.07,557.1,606.74,557.1C613.42,557.1,620.1,471.6,626.77,471.6C633.45,471.6,640.13,528.6,646.8,528.6C653.48,528.6,660.16,471.6,666.83,471.6C673.51,471.6,680.19,514.35,686.86,528.6C693.54,542.85,700.22,557.1,706.89,557.1C713.57,557.1,720.25,557.1,726.92,557.1C733.6,557.1,740.28,500.1,746.95,500.1C753.63,500.1,760.31,557.1,766.98,557.1C773.66,557.1,780.34,471.6,787.01,471.6C793.69,471.6,800.37,481.1,807.04,500.1C813.72,519.1,820.4,699.6,827.07,699.6C833.75,699.6,840.43,699.6,847.1,699.6C853.78,699.6,860.46,699.6,867.13,699.6C873.81,699.6,880.49,699.6,887.16,699.6C893.84,699.6,900.51,699.6,907.19,699.6C913.87,699.6,920.54,699.6,927.22,699.6C933.9,699.6,940.57,699.6,947.25,699.6C953.93,699.6,960.6,699.6,967.28,699.6C973.96,699.6,980.63,699.6,987.31,699.6C993.99,699.6,1000.66,699.6,1007.34,699.6C1014.02,699.6,1020.69,699.6,1027.37,699.6C1034.05,699.6,1040.72,699.6,1047.4,699.6" stroke="#4b9b52" stroke-width="2.1" stroke-linejoin="round"/><path d="M106,129.6V699.6M106,699.6H1047.4M94,699.6H106M94,557.1H106M94,414.6H106M94,272.1H106M94,129.6H106M106,699.6V711.6M506.6,699.6V711.6M1047.4,699.6V711.6" stroke="#6f6f6f" stroke-width="2"/></svg>
<span class="t m" style="left:2786.2px;top:1786.5px;font-size:22.6px;color:#6d6d6d">0</span>
<span class="t m" style="left:2786.2px;top:1644px;font-size:22.6px;color:#6d6d6d">5</span>
<span class="t m" style="left:2773px;top:1501.5px;font-size:22.6px;color:#6d6d6d;letter-spacing:-0.76px">10</span>
<span class="t m" style="left:2773px;top:1359px;font-size:22.6px;color:#6d6d6d;letter-spacing:-0.76px">15</span>
<span class="t m" style="left:2773px;top:1223.7px;font-size:22.6px;color:#6d6d6d;letter-spacing:-0.76px">20</span>
<div class="clip" style="left:2726px;top:1811px;width:1041.6px;height:29.38px"><span class="t m" style="left:-14.1px;top:0;font-size:22.6px;color:#6d6d6d;letter-spacing:-0.32px">Feb 24 12:00:00 AM</span></div>
<div class="clip" style="left:2726px;top:1811px;width:1041.6px;height:29.38px"><span class="t m" style="left:417.7px;top:0;font-size:22.6px;color:#6d6d6d;letter-spacing:-0.36px">10:00:00 AM</span></div>
<div class="clip" style="left:2726px;top:1811px;width:1041.6px;height:29.38px"><span class="t m" style="left:906px;top:0;font-size:22.6px;color:#6d6d6d;letter-spacing:-0.41px">11:30:00 PM</span></div>
<div style="left:2736px;top:1870.4px;width:24px;height:3.2px;background:#4b9b52"></div>
<span class="t" style="left:2779.8px;top:1857.9px;font-size:21.6px;color:#4b9b52;letter-spacing:-0.55px">ORD</span>
<div style="left:2843.2px;top:1870.4px;width:24px;height:3.2px;background:#70baa8"></div>
<span class="t" style="left:2886.2px;top:1857.9px;font-size:21.6px;color:#70baa8;letter-spacing:-0.19px">EWR</span>
<div style="left:2952.1px;top:1870.4px;width:24px;height:3.2px;background:#f3705a"></div>
<span class="t" style="left:2995.9px;top:1857.9px;font-size:21.6px;color:#f3705a;letter-spacing:-0.99px">FRA</span>
<div style="left:3054.1px;top:1870.4px;width:24px;height:3.2px;background:#e8aa3a"></div>
<span class="t" style="left:3098.9px;top:1857.9px;font-size:21.6px;color:#e8aa3a;letter-spacing:0.2px">SIN</span>
<span class="t" style="left:3150.3px;top:1856.9px;font-size:23px;color:#a9acb8;letter-spacing:-0.46px">+11 more</span>
<div style="left:3150.3px;top:1878.3px;width:93.1px;height:1.6px;background:#a9acb8"></div>
<svg class="ic" style="left:1578px;top:1058px" width="14" height="14" viewBox="0 0 14 14"><path d="M2 8h6v-6h4v10h-10z" fill="#fff" stroke="#111" stroke-width="1.2" stroke-opacity=".55"/></svg>
<svg class="ic" style="left:1578px;top:1898px" width="14" height="14" viewBox="0 0 14 14"><path d="M2 8h6v-6h4v10h-10z" fill="#fff" stroke="#111" stroke-width="1.2" stroke-opacity=".55"/></svg>
<svg class="ic" style="left:2672px;top:1058px" width="14" height="14" viewBox="0 0 14 14"><path d="M2 8h6v-6h4v10h-10z" fill="#fff" stroke="#111" stroke-width="1.2" stroke-opacity=".55"/></svg>
<svg class="ic" style="left:2672px;top:1898px" width="14" height="14" viewBox="0 0 14 14"><path d="M2 8h6v-6h4v10h-10z" fill="#fff" stroke="#111" stroke-width="1.2" stroke-opacity=".55"/></svg>
<svg class="ic" style="left:3766px;top:1058px" width="14" height="14" viewBox="0 0 14 14"><path d="M2 8h6v-6h4v10h-10z" fill="#fff" stroke="#111" stroke-width="1.2" stroke-opacity=".55"/></svg>
<svg class="ic" style="left:3766px;top:1898px" width="14" height="14" viewBox="0 0 14 14"><path d="M2 8h6v-6h4v10h-10z" fill="#fff" stroke="#111" stroke-width="1.2" stroke-opacity=".55"/></svg>
<div style="left:0px;top:1932px;width:3812px;height:2px;background:#4a4a48"></div>
<div style="left:3808px;top:0px;width:2px;height:1932px;background:#2c2c2c"></div>
<svg class="ic" style="left:0;top:1913px" width="21" height="21" viewBox="0 0 21 21"><defs><linearGradient id="cg" x1="0" y1="0" x2="0" y2="1"><stop offset="0" stop-color="#4a4a48" stop-opacity="0"/><stop offset=".45" stop-color="#4a4a48"/></linearGradient></defs><path d="M0 0v21h21A21 21 0 0 1 0 0z" fill="#0b0f0d"/><path d="M1 0A20 20 0 0 0 21 20" fill="none" stroke="url(#cg)" stroke-width="2"/></svg>
</div></body></html>
